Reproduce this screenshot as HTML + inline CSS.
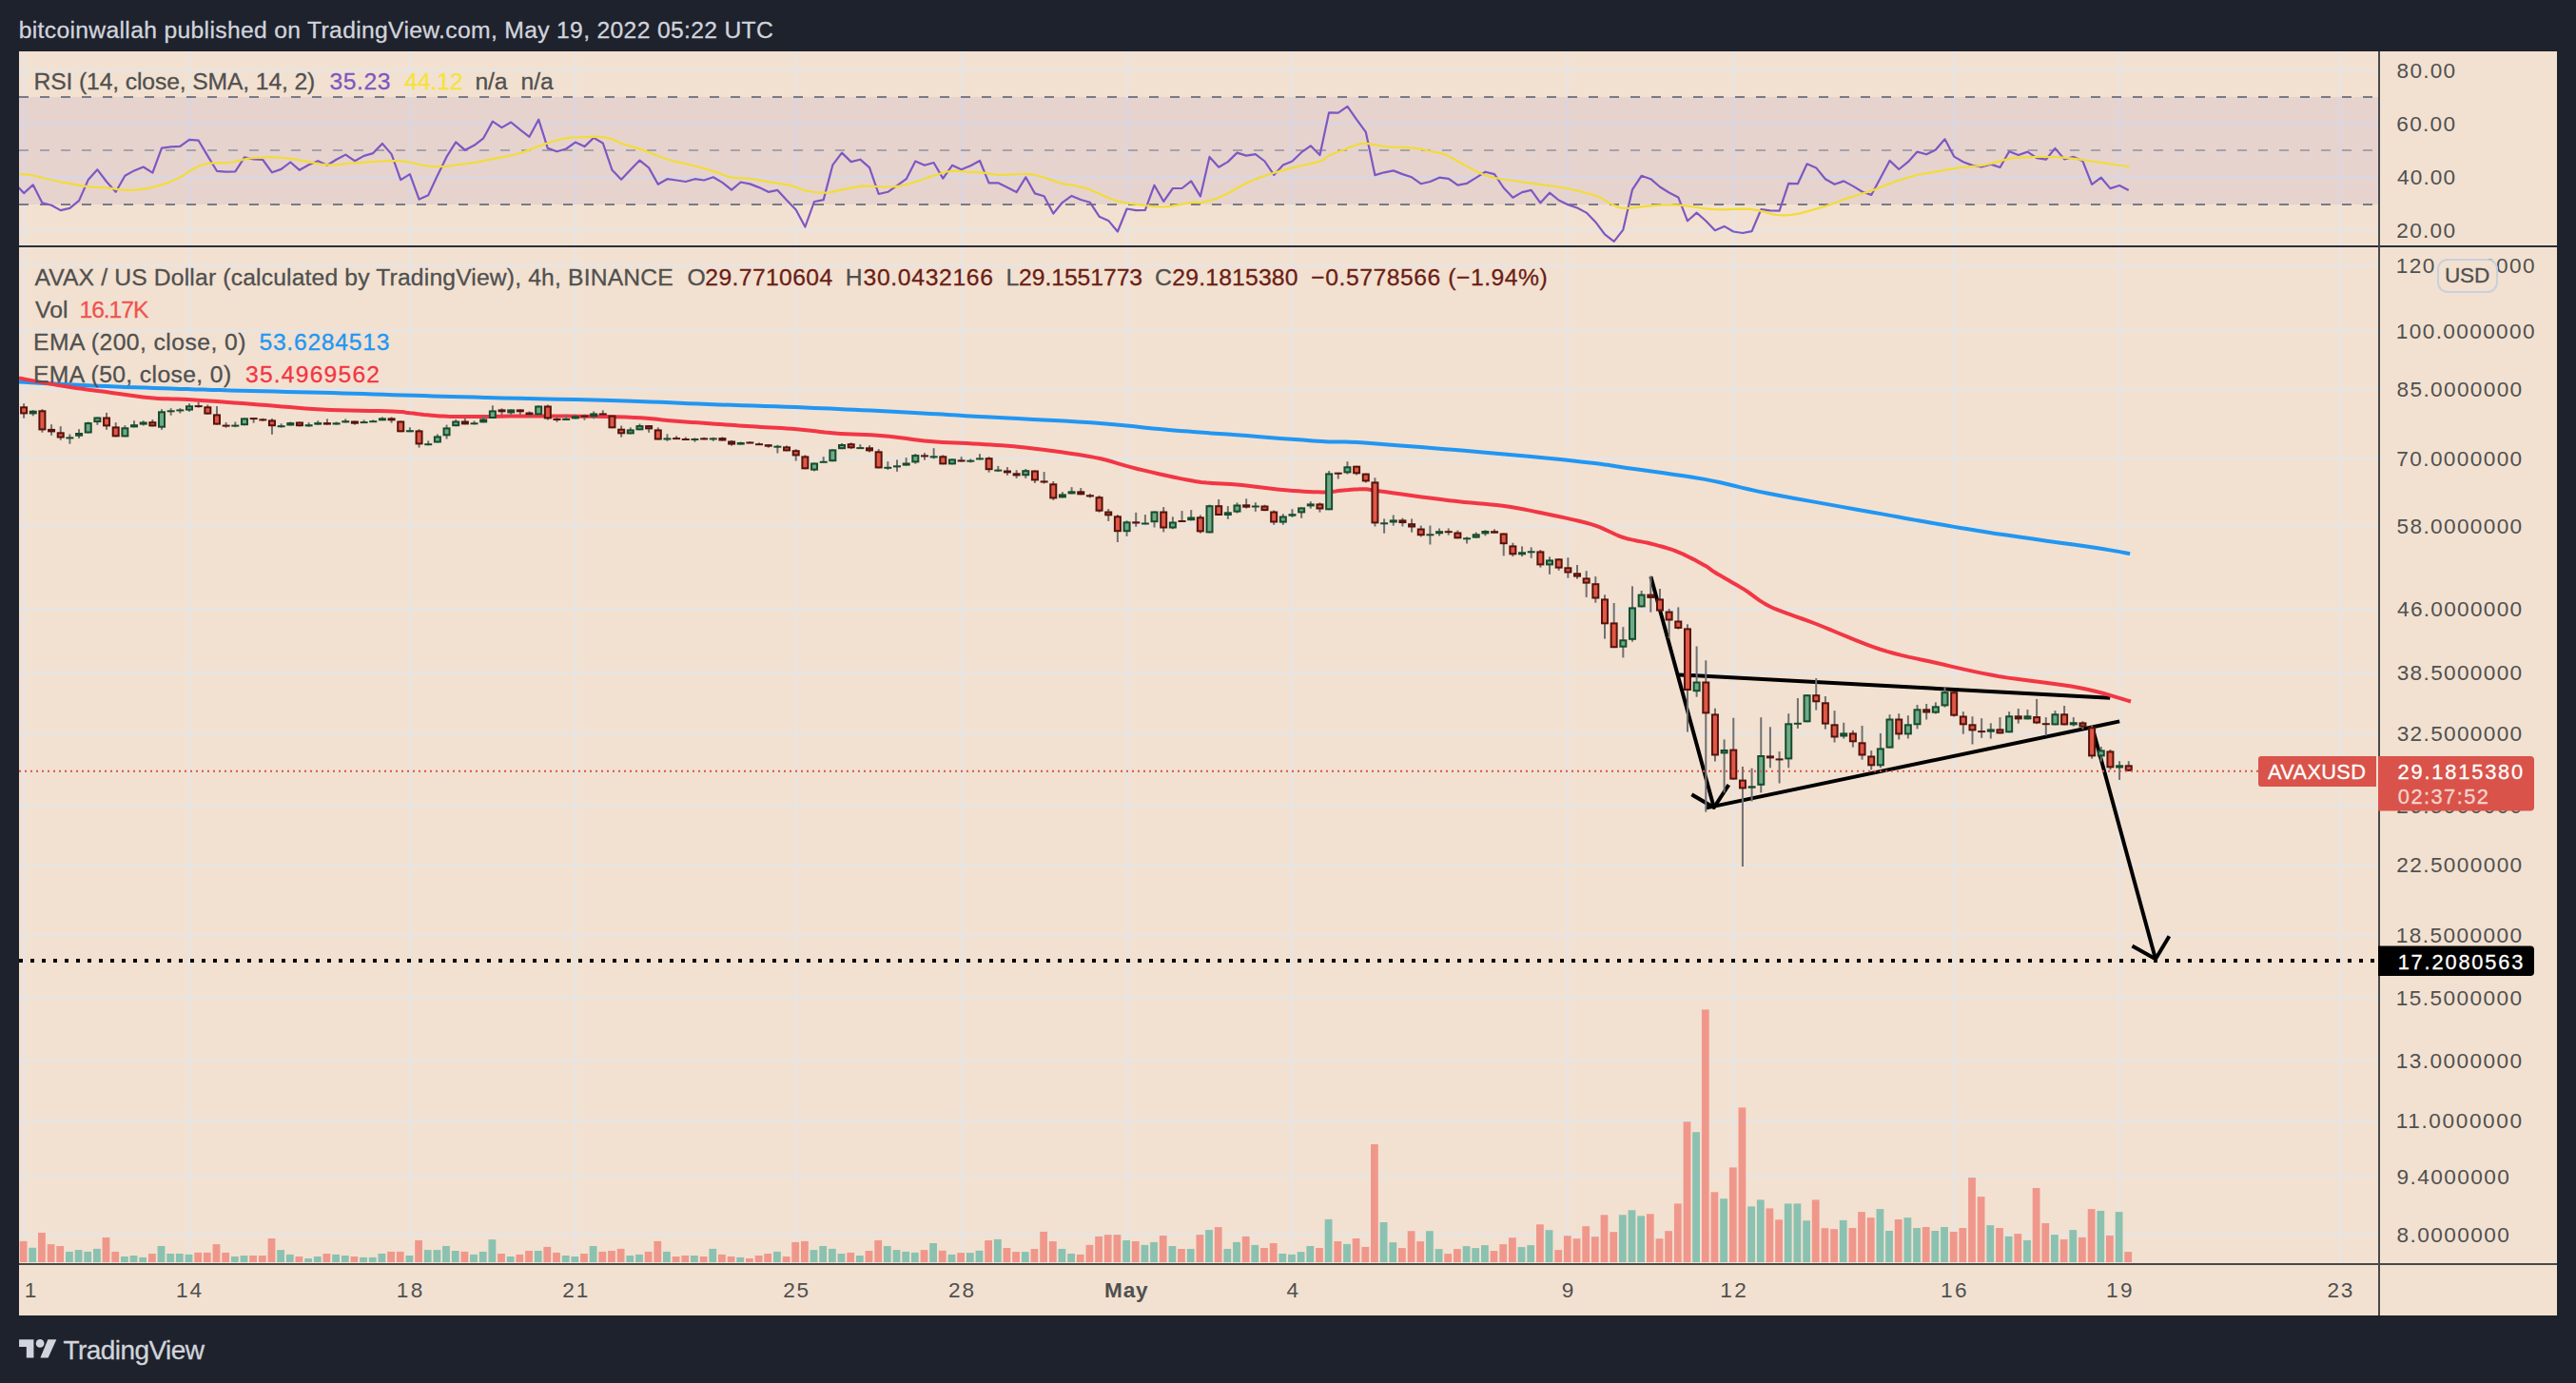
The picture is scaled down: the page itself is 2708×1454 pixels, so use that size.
<!DOCTYPE html><html><head><meta charset="utf-8"><style>html,body{margin:0;padding:0;background:#1e222d;width:2708px;height:1454px;overflow:hidden}svg{display:block}text{font-family:"Liberation Sans", sans-serif}</style></head><body><svg width="2708" height="1454" viewBox="0 0 2708 1454"><rect x="0" y="0" width="2708" height="1454" fill="#1e222d"/><text x="19.69" y="40" font-size="24.7" fill="#d1d4dc" textLength="793.16" lengthAdjust="spacing" stroke="#d1d4dc" stroke-width="0.3">bitcoinwallah published on TradingView.com, May 19, 2022 05:22 UTC</text><rect x="20" y="54" width="2668" height="1329" fill="#f2e1d0"/><defs><clipPath id="cp"><rect x="20" y="54" width="2480" height="1274"/></clipPath><clipPath id="rsiclip"><rect x="20" y="54" width="2480" height="204"/></clipPath><clipPath id="mainclip"><rect x="20" y="260" width="2480" height="1068"/></clipPath><clipPath id="taxclip"><rect x="20" y="1330" width="2480" height="53"/></clipPath></defs><g clip-path="url(#cp)"><rect x="24" y="54" width="2" height="1274" fill="#e4e5e8"/><rect x="198" y="54" width="2" height="1274" fill="#e4e5e8"/><rect x="430" y="54" width="2" height="1274" fill="#e4e5e8"/><rect x="604" y="54" width="2" height="1274" fill="#e4e5e8"/><rect x="836" y="54" width="2" height="1274" fill="#e4e5e8"/><rect x="1010" y="54" width="2" height="1274" fill="#e4e5e8"/><rect x="1184" y="54" width="2" height="1274" fill="#e4e5e8"/><rect x="1357" y="54" width="2" height="1274" fill="#e4e5e8"/><rect x="1647" y="54" width="2" height="1274" fill="#e4e5e8"/><rect x="1821" y="54" width="2" height="1274" fill="#e4e5e8"/><rect x="2053" y="54" width="2" height="1274" fill="#e4e5e8"/><rect x="2227" y="54" width="2" height="1274" fill="#e4e5e8"/><rect x="2459" y="54" width="2" height="1274" fill="#e4e5e8"/><rect x="20" y="73" width="2480" height="2" fill="#e4e5e8"/><rect x="20" y="129" width="2480" height="2" fill="#e4e5e8"/><rect x="20" y="185" width="2480" height="2" fill="#e4e5e8"/><rect x="20" y="241" width="2480" height="2" fill="#e4e5e8"/><rect x="20" y="278" width="2480" height="2" fill="#e4e5e8"/><rect x="20" y="347" width="2480" height="2" fill="#e4e5e8"/><rect x="20" y="408" width="2480" height="2" fill="#e4e5e8"/><rect x="20" y="481" width="2480" height="2" fill="#e4e5e8"/><rect x="20" y="552" width="2480" height="2" fill="#e4e5e8"/><rect x="20" y="639" width="2480" height="2" fill="#e4e5e8"/><rect x="20" y="706" width="2480" height="2" fill="#e4e5e8"/><rect x="20" y="770" width="2480" height="2" fill="#e4e5e8"/><rect x="20" y="846" width="2480" height="2" fill="#e4e5e8"/><rect x="20" y="908" width="2480" height="2" fill="#e4e5e8"/><rect x="20" y="982" width="2480" height="2" fill="#e4e5e8"/><rect x="20" y="1048" width="2480" height="2" fill="#e4e5e8"/><rect x="20" y="1114" width="2480" height="2" fill="#e4e5e8"/><rect x="20" y="1177" width="2480" height="2" fill="#e4e5e8"/><rect x="20" y="1236" width="2480" height="2" fill="#e4e5e8"/><rect x="20" y="1297" width="2480" height="2" fill="#e4e5e8"/></g><rect x="20" y="102" width="2480" height="113" fill="#7e57c2" fill-opacity="0.1"/><line x1="20" y1="102" x2="2500" y2="102" stroke="#787b86" stroke-width="2" stroke-dasharray="10 12"/><line x1="20" y1="158" x2="2500" y2="158" stroke="#a3a3ad" stroke-width="2" stroke-dasharray="10 12"/><line x1="20" y1="215" x2="2500" y2="215" stroke="#787b86" stroke-width="2" stroke-dasharray="10 12"/><g clip-path="url(#rsiclip)"><polyline fill="none" stroke="#7e57c2" stroke-width="2.2" stroke-linejoin="round" points="15.4,192.5 25.1,203.1 34.7,194.3 44.4,213.3 54.1,215.7 63.7,221.1 73.4,218.9 83.1,210.9 92.7,189.1 102.4,178.3 112.0,191.0 121.7,201.8 131.4,184.8 141.0,179.4 150.7,175.5 160.4,181.6 170.0,155.6 179.7,154.3 189.3,153.9 199.0,146.8 208.7,147.7 218.3,163.9 228.0,179.8 237.7,180.7 247.3,180.3 257.0,165.4 266.6,167.3 276.3,168.0 286.0,181.3 295.6,177.9 305.3,170.5 314.9,178.8 324.6,173.3 334.3,169.2 343.9,173.8 353.6,167.7 363.3,162.6 372.9,169.2 382.6,163.9 392.2,161.1 401.9,150.9 411.6,162.1 421.2,189.1 430.9,183.1 440.6,209.6 450.2,205.3 459.9,184.4 469.5,164.9 479.2,149.4 488.9,157.8 498.5,152.8 508.2,145.3 517.9,127.6 527.5,134.1 537.2,128.5 546.8,136.4 556.5,143.8 566.2,125.7 575.8,155.9 585.5,159.3 595.2,156.5 604.8,149.6 614.5,154.1 624.1,144.9 633.8,150.5 643.5,178.8 653.1,188.7 662.8,178.5 672.5,168.6 682.1,176.4 691.8,193.8 701.4,188.2 711.1,189.5 720.8,191.0 730.4,188.2 740.1,189.5 749.8,186.3 759.4,191.9 769.1,199.7 778.7,191.5 788.4,193.4 798.1,197.1 807.7,201.8 817.4,199.9 827.1,210.5 836.7,220.4 846.4,238.5 856.0,212.0 865.7,210.1 875.4,173.3 885.0,160.6 894.7,170.1 904.3,167.7 914.0,176.1 923.7,204.0 933.3,201.8 943.0,195.2 952.7,188.2 962.3,169.5 972.0,173.8 981.6,171.0 991.3,187.6 1001.0,173.8 1010.6,178.3 1020.3,174.2 1030.0,169.0 1039.6,192.3 1049.3,192.3 1058.9,197.1 1068.6,202.1 1078.3,186.3 1087.9,203.4 1097.6,206.2 1107.3,224.5 1116.9,212.8 1126.6,205.9 1136.2,210.0 1145.9,212.8 1155.6,227.7 1165.2,231.9 1174.9,243.5 1184.6,219.5 1194.2,221.1 1203.9,220.8 1213.5,194.7 1223.2,211.8 1232.9,198.0 1242.5,198.0 1252.2,190.4 1261.9,206.4 1271.5,164.9 1281.2,175.7 1290.8,170.1 1300.5,160.6 1310.2,163.6 1319.8,162.1 1329.5,169.5 1339.2,183.9 1348.8,173.6 1358.5,169.5 1368.1,160.2 1377.8,153.3 1387.5,163.0 1397.1,118.3 1406.8,118.7 1416.5,111.8 1426.1,125.7 1435.8,138.8 1445.4,184.1 1455.1,181.3 1464.8,179.4 1474.4,183.1 1484.1,186.3 1493.7,193.2 1503.4,191.0 1513.1,186.7 1522.7,187.8 1532.4,194.7 1542.1,192.8 1551.7,186.9 1561.4,180.7 1571.0,183.1 1580.7,197.5 1590.4,207.7 1600.0,202.1 1609.7,199.9 1619.4,213.3 1629.0,202.7 1638.7,210.5 1648.3,215.2 1658.0,218.5 1667.7,223.6 1677.3,233.4 1687.0,246.3 1696.7,253.9 1706.3,241.6 1716.0,199.3 1725.6,184.8 1735.3,188.2 1745.0,196.5 1754.6,202.5 1764.3,207.4 1774.0,232.3 1783.6,223.6 1793.3,232.3 1802.9,242.2 1812.6,237.9 1822.3,243.5 1831.9,245.0 1841.6,243.1 1851.3,220.2 1860.9,221.3 1870.6,221.7 1880.2,192.8 1889.9,193.2 1899.6,172.3 1909.2,176.4 1918.9,188.2 1928.6,193.8 1938.2,190.4 1947.9,195.6 1957.5,201.5 1967.2,204.9 1976.9,186.9 1986.5,168.9 1996.2,178.0 2005.9,170.2 2015.5,159.6 2025.2,162.3 2034.8,157.5 2044.5,146.3 2054.2,164.6 2063.8,170.2 2073.5,173.9 2083.1,175.5 2092.8,172.6 2102.5,176.0 2112.1,159.2 2121.8,163.0 2131.5,159.6 2141.1,166.2 2150.8,167.7 2160.4,155.9 2170.1,167.4 2179.8,164.9 2189.4,169.3 2199.1,193.8 2208.8,186.7 2218.4,198.1 2228.1,195.0 2237.7,200.0"/><polyline fill="none" stroke="#f2dc3a" stroke-width="2.2" stroke-linejoin="round" points="20.8,183.1 22.7,183.2 25.4,183.3 29.0,183.7 33.8,184.4 40.3,185.9 48.3,187.8 56.7,189.8 64.6,191.5 72.0,192.9 79.3,194.2 86.3,195.3 92.5,196.2 97.6,196.7 101.8,197.0 106.1,197.2 111.2,197.5 117.5,198.2 124.6,199.1 131.9,199.8 139.1,199.9 146.2,199.3 153.4,198.3 160.5,196.9 167.1,195.2 173.2,193.3 179.1,191.1 184.5,188.7 189.4,186.3 193.7,183.9 197.3,181.4 200.8,179.0 204.3,177.0 207.9,175.3 211.3,173.8 215.0,172.7 219.2,171.8 224.4,171.3 230.2,171.3 236.1,171.4 241.6,171.0 246.5,170.1 251.1,168.9 255.7,167.7 260.2,166.7 264.9,166.2 269.5,165.8 274.2,165.6 278.9,165.4 283.5,165.3 288.2,165.4 292.8,165.5 297.5,165.8 301.9,166.3 306.2,166.9 310.8,167.7 316.1,168.6 322.5,169.8 329.5,171.2 336.9,172.5 344.1,173.3 350.8,173.3 357.5,172.8 364.4,172.0 372.0,171.4 381.1,170.8 391.2,170.1 401.1,169.5 409.3,169.2 415.2,169.1 419.8,169.2 423.7,169.6 427.9,170.1 432.6,171.0 437.2,172.1 441.9,173.3 446.5,174.2 451.2,174.7 455.9,175.0 460.5,175.2 465.2,175.1 469.9,174.8 474.8,174.2 479.5,173.5 483.8,172.9 487.6,172.4 490.9,172.0 494.2,171.6 498.0,171.0 502.1,170.3 506.5,169.4 511.2,168.4 516.6,167.3 523.0,166.1 530.0,164.9 537.4,163.5 544.6,161.7 551.7,159.4 558.9,156.6 565.9,153.8 572.5,151.5 578.7,149.5 584.5,147.8 590.0,146.4 594.9,145.3 599.1,144.7 602.6,144.5 606.0,144.5 609.8,144.4 614.3,144.1 619.1,143.9 623.9,143.7 628.4,143.8 632.5,144.2 636.5,144.7 640.1,145.4 643.3,146.2 645.7,147.1 647.5,148.1 649.5,149.2 652.6,150.5 657.2,152.0 662.7,153.6 668.7,155.4 675.0,157.4 681.8,160.0 689.2,162.9 696.5,165.7 703.0,168.0 708.1,169.5 712.3,170.4 716.5,171.2 721.6,172.3 728.1,174.0 735.6,175.9 743.0,177.9 749.5,179.8 754.9,181.6 759.4,183.4 763.7,185.1 768.2,186.3 772.6,186.9 776.9,187.1 781.5,187.2 786.8,187.6 793.4,188.6 800.8,189.8 808.2,191.1 814.8,192.3 820.2,193.2 825.0,193.9 829.3,194.7 833.4,195.6 836.9,196.7 839.8,198.0 842.8,199.2 846.4,200.3 851.1,201.2 856.3,202.0 861.8,202.5 866.9,202.7 871.6,202.3 876.1,201.4 880.7,200.3 885.6,199.3 890.8,198.3 896.4,197.2 902.1,196.2 907.9,195.6 914.0,195.6 920.3,196.0 926.4,196.4 932.1,196.5 937.0,196.4 941.3,196.2 945.6,195.7 950.8,194.7 957.5,192.8 965.2,190.3 972.5,187.8 978.0,185.9 980.7,185.0 981.4,184.7 981.9,184.5 983.6,184.1 986.9,183.0 991.0,181.7 995.6,180.5 1000.4,179.8 1005.4,179.7 1011.0,180.1 1016.3,180.7 1020.9,181.1 1024.1,181.2 1026.6,181.1 1028.9,181.1 1032.0,181.3 1036.0,181.8 1040.4,182.6 1045.3,183.4 1050.7,183.9 1056.9,183.8 1063.8,183.4 1070.7,183.0 1076.8,182.9 1081.5,183.2 1085.4,183.6 1089.2,184.3 1093.5,185.4 1099.0,187.0 1105.0,189.1 1110.9,191.2 1115.9,192.8 1119.3,193.6 1121.7,193.9 1124.0,194.2 1127.1,194.7 1131.0,195.5 1135.3,196.4 1140.2,197.6 1145.7,199.3 1152.0,201.9 1159.1,205.2 1166.4,208.5 1173.6,211.1 1180.8,212.8 1188.0,214.0 1195.0,214.9 1201.6,215.7 1207.4,216.5 1212.7,217.2 1218.0,217.5 1223.9,217.4 1231.4,216.6 1239.7,215.2 1247.6,213.7 1253.8,212.8 1257.3,212.6 1259.0,212.8 1260.4,213.1 1263.1,212.8 1267.3,211.9 1272.3,210.6 1277.8,209.0 1283.6,206.8 1289.8,203.7 1296.5,200.0 1303.3,196.1 1309.7,192.8 1315.4,190.2 1320.7,188.1 1326.1,186.1 1332.0,184.1 1338.6,182.0 1345.6,179.9 1352.8,177.9 1360.0,176.1 1367.4,174.3 1375.1,172.7 1382.2,171.1 1387.9,169.5 1391.1,168.1 1392.6,166.8 1394.0,165.4 1397.2,163.6 1403.3,161.0 1411.1,157.9 1418.9,154.9 1425.2,152.8 1428.9,151.5 1431.2,150.9 1433.2,150.8 1436.4,150.9 1440.9,151.4 1446.1,152.4 1451.9,153.4 1458.0,154.3 1464.8,154.7 1472.2,154.9 1479.5,155.1 1485.9,155.6 1491.3,156.3 1496.0,157.2 1500.3,158.3 1504.6,159.3 1508.6,160.0 1512.3,160.6 1516.3,161.6 1521.4,163.6 1528.1,167.0 1536.1,171.5 1544.2,176.1 1551.2,179.8 1556.4,182.2 1560.6,184.0 1564.7,185.3 1569.8,186.7 1576.3,188.0 1583.5,189.0 1590.9,190.0 1597.7,191.0 1603.7,191.8 1609.2,192.6 1614.5,193.3 1620.1,194.1 1625.8,194.8 1631.5,195.5 1637.6,196.3 1644.3,197.5 1652.5,199.2 1661.7,201.4 1670.6,203.7 1677.9,205.9 1682.9,208.0 1686.5,210.1 1689.5,212.1 1692.8,213.9 1696.1,215.5 1699.3,217.1 1702.9,218.3 1707.7,218.9 1714.1,218.7 1721.8,217.8 1729.8,216.8 1737.5,216.1 1744.4,215.7 1751.0,215.5 1757.8,215.4 1765.4,215.7 1774.1,216.6 1783.5,218.0 1793.2,219.3 1802.7,220.2 1812.2,220.3 1821.9,219.9 1831.3,219.6 1840.0,219.8 1847.8,221.1 1855.1,222.9 1861.8,224.8 1867.9,226.0 1873.2,226.4 1877.8,226.4 1882.1,226.0 1886.5,225.4 1891.2,224.6 1895.9,223.4 1900.5,222.1 1905.2,220.8 1909.9,219.4 1914.8,218.0 1919.5,216.6 1923.8,215.2 1927.7,213.8 1931.1,212.5 1934.5,211.2 1938.0,209.9 1941.6,208.6 1945.3,207.4 1949.1,206.2 1952.9,204.9 1956.8,203.8 1960.7,202.6 1964.8,201.4 1969.1,200.0 1973.4,198.3 1977.8,196.4 1982.5,194.5 1987.7,192.5 1993.5,190.5 1999.7,188.4 2006.2,186.4 2012.5,184.7 2018.7,183.3 2025.0,182.2 2031.2,181.1 2037.4,180.1 2043.6,179.0 2049.8,177.9 2056.0,176.9 2062.2,176.0 2068.4,175.3 2074.6,174.8 2080.9,174.2 2087.1,173.3 2093.4,171.9 2099.8,170.1 2106.1,168.4 2111.9,167.0 2117.0,166.2 2121.5,165.7 2126.2,165.4 2131.8,165.2 2138.7,165.0 2146.4,164.9 2154.3,165.0 2161.6,165.2 2168.2,165.6 2174.3,166.2 2180.4,166.9 2186.4,167.7 2192.6,168.5 2198.7,169.5 2204.9,170.4 2211.3,171.4 2218.6,172.4 2226.5,173.5 2233.7,174.5 2238.6,175.1"/></g><text x="35.52" y="94" font-size="24.7" fill="#505050" textLength="295.78" lengthAdjust="spacing" stroke="#505050" stroke-width="0.3">RSI (14, close, SMA, 14, 2)</text><text x="346.44" y="94" font-size="24.7" fill="#7e57c2" textLength="64.11" lengthAdjust="spacing" stroke="#7e57c2" stroke-width="0.3">35.23</text><text x="425.31" y="94" font-size="24.7" fill="#f6e23a" textLength="61.39" lengthAdjust="spacing" stroke="#f6e23a" stroke-width="0.3">44.12</text><text x="499.39" y="94" font-size="24.7" fill="#505050" textLength="34.21" lengthAdjust="spacing" stroke="#505050" stroke-width="0.3">n/a</text><text x="547.59" y="94" font-size="24.7" fill="#505050" textLength="34.21" lengthAdjust="spacing" stroke="#505050" stroke-width="0.3">n/a</text><g clip-path="url(#mainclip)"><rect x="20.7" y="1304.9" width="7.8" height="22.1" fill="#f0978c"/><rect x="30.3" y="1311.8" width="7.8" height="15.2" fill="#8bc1b0"/><rect x="40.0" y="1296.0" width="7.8" height="31.0" fill="#f0978c"/><rect x="49.7" y="1308.1" width="7.8" height="18.9" fill="#f0978c"/><rect x="59.3" y="1310.0" width="7.8" height="17.0" fill="#f0978c"/><rect x="69.0" y="1315.9" width="7.8" height="11.1" fill="#8bc1b0"/><rect x="78.7" y="1314.1" width="7.8" height="12.9" fill="#8bc1b0"/><rect x="88.3" y="1315.9" width="7.8" height="11.1" fill="#8bc1b0"/><rect x="98.0" y="1312.9" width="7.8" height="14.1" fill="#8bc1b0"/><rect x="107.6" y="1301.0" width="7.8" height="26.0" fill="#f0978c"/><rect x="117.3" y="1315.9" width="7.8" height="11.1" fill="#f0978c"/><rect x="127.0" y="1321.0" width="7.8" height="6.0" fill="#8bc1b0"/><rect x="136.6" y="1320.0" width="7.8" height="7.0" fill="#8bc1b0"/><rect x="146.3" y="1321.9" width="7.8" height="5.1" fill="#8bc1b0"/><rect x="156.0" y="1318.0" width="7.8" height="9.0" fill="#f0978c"/><rect x="165.6" y="1310.0" width="7.8" height="17.0" fill="#8bc1b0"/><rect x="175.3" y="1318.0" width="7.8" height="9.0" fill="#8bc1b0"/><rect x="184.9" y="1318.0" width="7.8" height="9.0" fill="#8bc1b0"/><rect x="194.6" y="1318.9" width="7.8" height="8.1" fill="#8bc1b0"/><rect x="204.3" y="1316.9" width="7.8" height="10.1" fill="#f0978c"/><rect x="213.9" y="1316.9" width="7.8" height="10.1" fill="#f0978c"/><rect x="223.6" y="1308.1" width="7.8" height="18.9" fill="#f0978c"/><rect x="233.3" y="1316.9" width="7.8" height="10.1" fill="#f0978c"/><rect x="242.9" y="1321.0" width="7.8" height="6.0" fill="#8bc1b0"/><rect x="252.6" y="1320.0" width="7.8" height="7.0" fill="#8bc1b0"/><rect x="262.2" y="1320.0" width="7.8" height="7.0" fill="#f0978c"/><rect x="271.9" y="1320.0" width="7.8" height="7.0" fill="#f0978c"/><rect x="281.6" y="1302.0" width="7.8" height="25.0" fill="#f0978c"/><rect x="291.2" y="1314.1" width="7.8" height="12.9" fill="#8bc1b0"/><rect x="300.9" y="1318.9" width="7.8" height="8.1" fill="#8bc1b0"/><rect x="310.5" y="1321.0" width="7.8" height="6.0" fill="#f0978c"/><rect x="320.2" y="1323.0" width="7.8" height="4.0" fill="#8bc1b0"/><rect x="329.9" y="1321.0" width="7.8" height="6.0" fill="#8bc1b0"/><rect x="339.5" y="1318.0" width="7.8" height="9.0" fill="#f0978c"/><rect x="349.2" y="1318.9" width="7.8" height="8.1" fill="#8bc1b0"/><rect x="358.9" y="1320.0" width="7.8" height="7.0" fill="#8bc1b0"/><rect x="368.5" y="1321.0" width="7.8" height="6.0" fill="#f0978c"/><rect x="378.2" y="1321.9" width="7.8" height="5.1" fill="#8bc1b0"/><rect x="387.8" y="1321.9" width="7.8" height="5.1" fill="#8bc1b0"/><rect x="397.5" y="1318.0" width="7.8" height="9.0" fill="#8bc1b0"/><rect x="407.2" y="1315.9" width="7.8" height="11.1" fill="#f0978c"/><rect x="416.8" y="1315.9" width="7.8" height="11.1" fill="#f0978c"/><rect x="426.5" y="1320.0" width="7.8" height="7.0" fill="#8bc1b0"/><rect x="436.2" y="1304.0" width="7.8" height="23.0" fill="#f0978c"/><rect x="445.8" y="1314.1" width="7.8" height="12.9" fill="#8bc1b0"/><rect x="455.5" y="1314.1" width="7.8" height="12.9" fill="#8bc1b0"/><rect x="465.1" y="1310.0" width="7.8" height="17.0" fill="#8bc1b0"/><rect x="474.8" y="1315.0" width="7.8" height="12.0" fill="#8bc1b0"/><rect x="484.5" y="1315.9" width="7.8" height="11.1" fill="#f0978c"/><rect x="494.1" y="1318.9" width="7.8" height="8.1" fill="#8bc1b0"/><rect x="503.8" y="1315.9" width="7.8" height="11.1" fill="#8bc1b0"/><rect x="513.5" y="1303.1" width="7.8" height="23.9" fill="#8bc1b0"/><rect x="523.1" y="1318.0" width="7.8" height="9.0" fill="#f0978c"/><rect x="532.8" y="1321.0" width="7.8" height="6.0" fill="#8bc1b0"/><rect x="542.4" y="1318.9" width="7.8" height="8.1" fill="#f0978c"/><rect x="552.1" y="1315.0" width="7.8" height="12.0" fill="#f0978c"/><rect x="561.8" y="1315.0" width="7.8" height="12.0" fill="#8bc1b0"/><rect x="571.4" y="1310.9" width="7.8" height="16.1" fill="#f0978c"/><rect x="581.1" y="1316.9" width="7.8" height="10.1" fill="#f0978c"/><rect x="590.8" y="1320.0" width="7.8" height="7.0" fill="#8bc1b0"/><rect x="600.4" y="1321.0" width="7.8" height="6.0" fill="#8bc1b0"/><rect x="610.1" y="1318.0" width="7.8" height="9.0" fill="#f0978c"/><rect x="619.7" y="1310.0" width="7.8" height="17.0" fill="#8bc1b0"/><rect x="629.4" y="1315.9" width="7.8" height="11.1" fill="#f0978c"/><rect x="639.1" y="1315.0" width="7.8" height="12.0" fill="#f0978c"/><rect x="648.7" y="1312.9" width="7.8" height="14.1" fill="#f0978c"/><rect x="658.4" y="1320.0" width="7.8" height="7.0" fill="#8bc1b0"/><rect x="668.1" y="1318.9" width="7.8" height="8.1" fill="#8bc1b0"/><rect x="677.7" y="1315.9" width="7.8" height="11.1" fill="#f0978c"/><rect x="687.4" y="1304.9" width="7.8" height="22.1" fill="#f0978c"/><rect x="697.0" y="1315.9" width="7.8" height="11.1" fill="#8bc1b0"/><rect x="706.7" y="1321.0" width="7.8" height="6.0" fill="#f0978c"/><rect x="716.4" y="1320.0" width="7.8" height="7.0" fill="#f0978c"/><rect x="726.0" y="1320.0" width="7.8" height="7.0" fill="#8bc1b0"/><rect x="735.7" y="1321.0" width="7.8" height="6.0" fill="#f0978c"/><rect x="745.4" y="1312.9" width="7.8" height="14.1" fill="#8bc1b0"/><rect x="755.0" y="1318.9" width="7.8" height="8.1" fill="#f0978c"/><rect x="764.7" y="1321.0" width="7.8" height="6.0" fill="#f0978c"/><rect x="774.3" y="1321.9" width="7.8" height="5.1" fill="#8bc1b0"/><rect x="784.0" y="1323.0" width="7.8" height="4.0" fill="#f0978c"/><rect x="793.7" y="1320.0" width="7.8" height="7.0" fill="#f0978c"/><rect x="803.3" y="1318.0" width="7.8" height="9.0" fill="#f0978c"/><rect x="813.0" y="1315.9" width="7.8" height="11.1" fill="#8bc1b0"/><rect x="822.7" y="1321.0" width="7.8" height="6.0" fill="#f0978c"/><rect x="832.3" y="1305.9" width="7.8" height="21.1" fill="#f0978c"/><rect x="842.0" y="1304.9" width="7.8" height="22.1" fill="#f0978c"/><rect x="851.6" y="1314.1" width="7.8" height="12.9" fill="#8bc1b0"/><rect x="861.3" y="1310.0" width="7.8" height="17.0" fill="#8bc1b0"/><rect x="871.0" y="1312.9" width="7.8" height="14.1" fill="#8bc1b0"/><rect x="880.6" y="1318.0" width="7.8" height="9.0" fill="#8bc1b0"/><rect x="890.3" y="1316.9" width="7.8" height="10.1" fill="#f0978c"/><rect x="899.9" y="1320.0" width="7.8" height="7.0" fill="#8bc1b0"/><rect x="909.6" y="1315.0" width="7.8" height="12.0" fill="#f0978c"/><rect x="919.3" y="1304.0" width="7.8" height="23.0" fill="#f0978c"/><rect x="928.9" y="1310.0" width="7.8" height="17.0" fill="#8bc1b0"/><rect x="938.6" y="1314.1" width="7.8" height="12.9" fill="#8bc1b0"/><rect x="948.3" y="1315.9" width="7.8" height="11.1" fill="#8bc1b0"/><rect x="957.9" y="1316.9" width="7.8" height="10.1" fill="#8bc1b0"/><rect x="967.6" y="1314.1" width="7.8" height="12.9" fill="#f0978c"/><rect x="977.2" y="1307.0" width="7.8" height="20.0" fill="#8bc1b0"/><rect x="986.9" y="1314.8" width="7.8" height="12.2" fill="#f0978c"/><rect x="996.6" y="1318.9" width="7.8" height="8.1" fill="#8bc1b0"/><rect x="1006.2" y="1317.1" width="7.8" height="9.9" fill="#f0978c"/><rect x="1015.9" y="1317.1" width="7.8" height="9.9" fill="#8bc1b0"/><rect x="1025.6" y="1314.8" width="7.8" height="12.2" fill="#8bc1b0"/><rect x="1035.2" y="1304.0" width="7.8" height="23.0" fill="#f0978c"/><rect x="1044.9" y="1302.9" width="7.8" height="24.1" fill="#8bc1b0"/><rect x="1054.5" y="1312.0" width="7.8" height="15.0" fill="#f0978c"/><rect x="1064.2" y="1316.1" width="7.8" height="10.9" fill="#f0978c"/><rect x="1073.9" y="1316.1" width="7.8" height="10.9" fill="#8bc1b0"/><rect x="1083.5" y="1313.0" width="7.8" height="14.0" fill="#f0978c"/><rect x="1093.2" y="1294.9" width="7.8" height="32.1" fill="#f0978c"/><rect x="1102.9" y="1305.0" width="7.8" height="22.0" fill="#f0978c"/><rect x="1112.5" y="1313.0" width="7.8" height="14.0" fill="#8bc1b0"/><rect x="1122.2" y="1318.0" width="7.8" height="9.0" fill="#8bc1b0"/><rect x="1131.8" y="1318.9" width="7.8" height="8.1" fill="#f0978c"/><rect x="1141.5" y="1308.9" width="7.8" height="18.1" fill="#f0978c"/><rect x="1151.2" y="1299.9" width="7.8" height="27.1" fill="#f0978c"/><rect x="1160.8" y="1298.1" width="7.8" height="28.9" fill="#f0978c"/><rect x="1170.5" y="1298.1" width="7.8" height="28.9" fill="#f0978c"/><rect x="1180.2" y="1304.0" width="7.8" height="23.0" fill="#8bc1b0"/><rect x="1189.8" y="1305.0" width="7.8" height="22.0" fill="#f0978c"/><rect x="1199.5" y="1308.9" width="7.8" height="18.1" fill="#8bc1b0"/><rect x="1209.1" y="1305.9" width="7.8" height="21.1" fill="#8bc1b0"/><rect x="1218.8" y="1299.0" width="7.8" height="28.0" fill="#f0978c"/><rect x="1228.5" y="1310.0" width="7.8" height="17.0" fill="#8bc1b0"/><rect x="1238.1" y="1313.0" width="7.8" height="14.0" fill="#f0978c"/><rect x="1247.8" y="1313.0" width="7.8" height="14.0" fill="#8bc1b0"/><rect x="1257.5" y="1298.1" width="7.8" height="28.9" fill="#f0978c"/><rect x="1267.1" y="1293.0" width="7.8" height="34.0" fill="#8bc1b0"/><rect x="1276.8" y="1290.1" width="7.8" height="36.9" fill="#f0978c"/><rect x="1286.4" y="1313.0" width="7.8" height="14.0" fill="#8bc1b0"/><rect x="1296.1" y="1305.9" width="7.8" height="21.1" fill="#8bc1b0"/><rect x="1305.8" y="1299.9" width="7.8" height="27.1" fill="#f0978c"/><rect x="1315.4" y="1308.9" width="7.8" height="18.1" fill="#8bc1b0"/><rect x="1325.1" y="1312.0" width="7.8" height="15.0" fill="#f0978c"/><rect x="1334.8" y="1307.0" width="7.8" height="20.0" fill="#f0978c"/><rect x="1344.4" y="1318.0" width="7.8" height="9.0" fill="#8bc1b0"/><rect x="1354.1" y="1318.9" width="7.8" height="8.1" fill="#8bc1b0"/><rect x="1363.7" y="1316.1" width="7.8" height="10.9" fill="#8bc1b0"/><rect x="1373.4" y="1310.0" width="7.8" height="17.0" fill="#8bc1b0"/><rect x="1383.1" y="1312.0" width="7.8" height="15.0" fill="#f0978c"/><rect x="1392.7" y="1281.9" width="7.8" height="45.1" fill="#8bc1b0"/><rect x="1402.4" y="1305.0" width="7.8" height="22.0" fill="#f0978c"/><rect x="1412.1" y="1307.9" width="7.8" height="19.1" fill="#8bc1b0"/><rect x="1421.7" y="1302.0" width="7.8" height="25.0" fill="#f0978c"/><rect x="1431.4" y="1310.9" width="7.8" height="16.1" fill="#f0978c"/><rect x="1441.0" y="1203.0" width="7.8" height="124.0" fill="#f0978c"/><rect x="1450.7" y="1285.0" width="7.8" height="42.0" fill="#8bc1b0"/><rect x="1460.4" y="1306.1" width="7.8" height="20.9" fill="#8bc1b0"/><rect x="1470.0" y="1312.1" width="7.8" height="14.9" fill="#f0978c"/><rect x="1479.7" y="1294.2" width="7.8" height="32.8" fill="#f0978c"/><rect x="1489.3" y="1305.1" width="7.8" height="21.9" fill="#f0978c"/><rect x="1499.0" y="1294.2" width="7.8" height="32.8" fill="#8bc1b0"/><rect x="1508.7" y="1313.1" width="7.8" height="13.9" fill="#8bc1b0"/><rect x="1518.3" y="1318.1" width="7.8" height="8.9" fill="#f0978c"/><rect x="1528.0" y="1313.1" width="7.8" height="13.9" fill="#f0978c"/><rect x="1537.7" y="1310.1" width="7.8" height="16.9" fill="#8bc1b0"/><rect x="1547.3" y="1312.1" width="7.8" height="14.9" fill="#8bc1b0"/><rect x="1557.0" y="1309.1" width="7.8" height="17.9" fill="#8bc1b0"/><rect x="1566.6" y="1315.1" width="7.8" height="11.9" fill="#f0978c"/><rect x="1576.3" y="1308.1" width="7.8" height="18.9" fill="#f0978c"/><rect x="1586.0" y="1301.2" width="7.8" height="25.8" fill="#f0978c"/><rect x="1595.6" y="1311.1" width="7.8" height="15.9" fill="#8bc1b0"/><rect x="1605.3" y="1309.1" width="7.8" height="17.9" fill="#8bc1b0"/><rect x="1615.0" y="1287.3" width="7.8" height="39.7" fill="#f0978c"/><rect x="1624.6" y="1293.2" width="7.8" height="33.8" fill="#8bc1b0"/><rect x="1634.3" y="1314.1" width="7.8" height="12.9" fill="#f0978c"/><rect x="1643.9" y="1299.2" width="7.8" height="27.8" fill="#f0978c"/><rect x="1653.6" y="1302.2" width="7.8" height="24.8" fill="#f0978c"/><rect x="1663.3" y="1289.2" width="7.8" height="37.8" fill="#f0978c"/><rect x="1672.9" y="1300.2" width="7.8" height="26.8" fill="#f0978c"/><rect x="1682.6" y="1277.3" width="7.8" height="49.7" fill="#f0978c"/><rect x="1692.3" y="1295.2" width="7.8" height="31.8" fill="#f0978c"/><rect x="1701.9" y="1277.3" width="7.8" height="49.7" fill="#8bc1b0"/><rect x="1711.6" y="1272.3" width="7.8" height="54.7" fill="#8bc1b0"/><rect x="1721.2" y="1278.3" width="7.8" height="48.7" fill="#8bc1b0"/><rect x="1730.9" y="1276.3" width="7.8" height="50.7" fill="#f0978c"/><rect x="1740.6" y="1302.2" width="7.8" height="24.8" fill="#f0978c"/><rect x="1750.2" y="1294.2" width="7.8" height="32.8" fill="#f0978c"/><rect x="1759.9" y="1265.4" width="7.8" height="61.6" fill="#f0978c"/><rect x="1769.6" y="1179.3" width="7.8" height="147.7" fill="#f0978c"/><rect x="1779.2" y="1190.2" width="7.8" height="136.8" fill="#8bc1b0"/><rect x="1788.9" y="1061.4" width="7.8" height="265.6" fill="#f0978c"/><rect x="1798.5" y="1253.3" width="7.8" height="73.7" fill="#f0978c"/><rect x="1808.2" y="1260.2" width="7.8" height="66.8" fill="#8bc1b0"/><rect x="1817.9" y="1227.4" width="7.8" height="99.6" fill="#f0978c"/><rect x="1827.5" y="1164.4" width="7.8" height="162.6" fill="#f0978c"/><rect x="1837.2" y="1268.4" width="7.8" height="58.6" fill="#8bc1b0"/><rect x="1846.9" y="1261.4" width="7.8" height="65.6" fill="#8bc1b0"/><rect x="1856.5" y="1270.4" width="7.8" height="56.6" fill="#f0978c"/><rect x="1866.2" y="1282.3" width="7.8" height="44.7" fill="#f0978c"/><rect x="1875.8" y="1265.4" width="7.8" height="61.6" fill="#8bc1b0"/><rect x="1885.5" y="1265.4" width="7.8" height="61.6" fill="#8bc1b0"/><rect x="1895.2" y="1283.3" width="7.8" height="43.7" fill="#8bc1b0"/><rect x="1904.8" y="1261.4" width="7.8" height="65.6" fill="#f0978c"/><rect x="1914.5" y="1291.2" width="7.8" height="35.8" fill="#f0978c"/><rect x="1924.2" y="1292.2" width="7.8" height="34.8" fill="#f0978c"/><rect x="1933.8" y="1282.9" width="7.8" height="44.1" fill="#8bc1b0"/><rect x="1943.5" y="1291.0" width="7.8" height="36.0" fill="#f0978c"/><rect x="1953.1" y="1274.1" width="7.8" height="52.9" fill="#f0978c"/><rect x="1962.8" y="1280.1" width="7.8" height="46.9" fill="#f0978c"/><rect x="1972.5" y="1271.1" width="7.8" height="55.9" fill="#8bc1b0"/><rect x="1982.1" y="1294.0" width="7.8" height="33.0" fill="#8bc1b0"/><rect x="1991.8" y="1282.0" width="7.8" height="45.0" fill="#f0978c"/><rect x="2001.5" y="1280.1" width="7.8" height="46.9" fill="#8bc1b0"/><rect x="2011.1" y="1291.0" width="7.8" height="36.0" fill="#8bc1b0"/><rect x="2020.8" y="1290.0" width="7.8" height="37.0" fill="#f0978c"/><rect x="2030.4" y="1294.0" width="7.8" height="33.0" fill="#8bc1b0"/><rect x="2040.1" y="1290.0" width="7.8" height="37.0" fill="#8bc1b0"/><rect x="2049.8" y="1295.0" width="7.8" height="32.0" fill="#f0978c"/><rect x="2059.4" y="1291.0" width="7.8" height="36.0" fill="#f0978c"/><rect x="2069.1" y="1238.1" width="7.8" height="88.9" fill="#f0978c"/><rect x="2078.7" y="1258.1" width="7.8" height="68.9" fill="#f0978c"/><rect x="2088.4" y="1288.1" width="7.8" height="38.9" fill="#8bc1b0"/><rect x="2098.1" y="1291.0" width="7.8" height="36.0" fill="#f0978c"/><rect x="2107.7" y="1299.9" width="7.8" height="27.1" fill="#8bc1b0"/><rect x="2117.4" y="1297.1" width="7.8" height="29.9" fill="#f0978c"/><rect x="2127.1" y="1303.9" width="7.8" height="23.1" fill="#8bc1b0"/><rect x="2136.7" y="1249.0" width="7.8" height="78.0" fill="#f0978c"/><rect x="2146.4" y="1286.0" width="7.8" height="41.0" fill="#f0978c"/><rect x="2156.0" y="1298.1" width="7.8" height="28.9" fill="#8bc1b0"/><rect x="2165.7" y="1303.0" width="7.8" height="24.0" fill="#f0978c"/><rect x="2175.4" y="1293.1" width="7.8" height="33.9" fill="#8bc1b0"/><rect x="2185.0" y="1300.9" width="7.8" height="26.1" fill="#f0978c"/><rect x="2194.7" y="1271.1" width="7.8" height="55.9" fill="#f0978c"/><rect x="2204.4" y="1273.0" width="7.8" height="54.0" fill="#8bc1b0"/><rect x="2214.0" y="1298.9" width="7.8" height="28.1" fill="#f0978c"/><rect x="2223.7" y="1274.1" width="7.8" height="52.9" fill="#8bc1b0"/><rect x="2233.3" y="1316.1" width="7.8" height="10.9" fill="#f0978c"/><line x1="20" y1="1010" x2="2496" y2="1010" stroke="#000" stroke-width="4" stroke-dasharray="4 8"/><line x1="1735.4" y1="606.2" x2="1801.8" y2="849" stroke="#000" stroke-width="4" stroke-linecap="butt"/><polyline fill="none" stroke="#000" stroke-width="4" stroke-linecap="butt" stroke-linejoin="round" points="1778.4,835.3 1801.8,849 1817.3,825.1"/><line x1="1764.8" y1="709.4" x2="2218.2" y2="733.7" stroke="#000" stroke-width="4" stroke-linecap="butt"/><line x1="1793.7" y1="849.4" x2="2228.2" y2="758.4" stroke="#000" stroke-width="4" stroke-linecap="butt"/><line x1="2201" y1="770" x2="2266" y2="1008.2" stroke="#000" stroke-width="4" stroke-linecap="butt"/><polyline fill="none" stroke="#000" stroke-width="4" stroke-linecap="butt" stroke-linejoin="round" points="2241.5,994.4 2266,1008.2 2280.4,984.2"/><polyline fill="none" stroke="#2196f3" stroke-width="4" stroke-linejoin="round" points="20.0,401.5 25.5,401.8 32.9,402.2 41.6,402.7 51.3,403.2 61.7,403.8 72.2,404.3 82.6,404.8 92.5,405.3 102.1,405.7 112.0,406.1 122.0,406.5 132.1,406.9 142.2,407.3 152.1,407.6 161.9,408.0 171.4,408.3 180.4,408.6 188.9,408.9 197.2,409.1 205.4,409.4 213.7,409.6 222.4,409.9 231.6,410.1 241.6,410.4 252.5,410.7 264.1,411.0 276.2,411.3 288.8,411.6 301.4,411.9 313.9,412.2 326.2,412.5 338.0,412.8 349.3,413.1 360.4,413.5 371.3,413.8 382.1,414.1 392.8,414.5 403.5,414.8 414.2,415.2 425.0,415.5 435.5,415.8 445.4,416.1 455.0,416.4 464.8,416.7 475.1,417.0 486.1,417.3 498.3,417.6 512.0,418.0 527.8,418.4 545.7,418.8 565.0,419.2 585.0,419.7 605.0,420.1 624.3,420.6 642.2,421.1 658.0,421.5 671.7,421.9 683.8,422.4 694.7,422.8 704.9,423.3 714.6,423.7 724.3,424.2 734.3,424.6 745.0,425.0 756.4,425.4 768.2,425.8 780.1,426.2 792.0,426.6 803.9,427.0 815.4,427.3 826.4,427.7 836.9,428.1 846.7,428.5 855.8,428.9 864.5,429.2 873.0,429.6 881.2,430.0 889.5,430.4 897.9,430.8 906.5,431.2 915.5,431.6 924.7,432.1 934.1,432.6 943.4,433.1 952.6,433.5 961.5,434.0 970.0,434.5 978.0,434.9 984.9,435.3 990.7,435.6 995.8,436.0 1000.8,436.3 1006.1,436.6 1012.3,437.0 1019.8,437.5 1029.3,438.0 1041.1,438.6 1054.8,439.3 1070.0,440.1 1086.1,440.9 1102.4,441.7 1118.4,442.5 1133.4,443.4 1147.0,444.3 1159.2,445.2 1170.8,446.2 1181.7,447.3 1192.2,448.3 1202.2,449.4 1212.0,450.4 1221.6,451.3 1231.2,452.2 1240.4,453.0 1249.0,453.6 1257.2,454.2 1265.3,454.8 1273.4,455.4 1281.7,456.0 1290.5,456.6 1300.0,457.3 1310.5,458.1 1321.9,459.0 1333.9,459.9 1346.0,460.9 1358.0,461.8 1369.5,462.6 1380.1,463.4 1389.5,464.0 1396.8,464.4 1401.9,464.5 1405.7,464.5 1409.3,464.5 1413.4,464.5 1418.9,464.7 1426.8,465.1 1437.9,465.8 1453.1,466.9 1472.0,468.4 1493.4,470.1 1516.2,471.9 1539.2,473.8 1561.3,475.7 1581.3,477.4 1598.2,478.9 1612.2,480.2 1624.6,481.4 1635.5,482.5 1645.2,483.5 1653.9,484.5 1661.9,485.4 1669.3,486.3 1676.4,487.1 1682.4,487.8 1686.8,488.4 1690.1,488.8 1693.0,489.3 1695.8,489.7 1699.2,490.3 1703.8,491.0 1710.0,491.9 1718.0,493.0 1727.4,494.3 1737.9,495.7 1748.9,497.3 1760.2,498.9 1771.4,500.5 1782.1,502.2 1792.0,503.9 1800.7,505.6 1808.6,507.3 1815.9,509.0 1823.2,510.8 1830.7,512.6 1838.9,514.5 1848.2,516.6 1859.0,518.8 1871.9,521.3 1886.7,524.0 1902.9,526.9 1919.6,529.9 1936.3,532.9 1952.1,535.7 1966.3,538.2 1978.4,540.4 1988.0,542.1 1995.8,543.5 2002.2,544.7 2007.7,545.7 2012.8,546.6 2018.0,547.5 2023.7,548.5 2030.5,549.7 2037.9,551.0 2045.3,552.3 2052.9,553.6 2060.8,555.0 2069.0,556.3 2077.9,557.8 2087.3,559.3 2097.6,560.9 2109.3,562.6 2122.7,564.6 2137.0,566.6 2151.7,568.7 2166.1,570.7 2179.8,572.6 2191.9,574.3 2202.0,575.8 2210.1,577.0 2216.9,578.1 2222.5,579.1 2227.1,579.9 2230.9,580.6 2234.1,581.2 2236.8,581.7 2239.2,582.1"/><polyline fill="none" stroke="#f23645" stroke-width="4" stroke-linejoin="round" points="20.0,397.5 23.7,398.2 28.5,399.1 34.3,400.2 40.7,401.4 47.6,402.6 54.5,403.9 61.3,405.1 67.7,406.1 73.9,407.0 80.1,408.0 86.5,408.8 92.8,409.7 99.1,410.5 105.4,411.3 111.5,412.1 117.4,412.9 123.1,413.7 128.7,414.5 134.2,415.3 139.5,416.0 144.9,416.7 150.2,417.4 155.5,418.0 160.9,418.5 166.2,418.9 171.2,419.2 176.1,419.3 181.1,419.5 186.2,419.6 191.7,419.8 197.7,420.0 204.3,420.4 211.6,420.9 219.6,421.4 228.1,422.0 236.9,422.7 245.9,423.4 254.9,424.1 263.7,424.7 272.3,425.4 280.6,426.1 288.7,426.7 296.7,427.4 304.7,428.1 312.8,428.8 321.0,429.4 329.4,430.0 338.0,430.5 347.3,430.9 357.3,431.2 367.7,431.5 378.2,431.7 388.3,431.9 397.6,432.1 405.8,432.3 412.5,432.5 417.4,432.7 420.8,432.9 423.1,433.1 424.6,433.3 425.7,433.5 427.0,433.7 428.7,433.9 431.2,434.2 434.4,434.5 437.9,435.0 441.6,435.4 445.5,435.9 449.6,436.3 453.7,436.7 457.9,437.1 462.2,437.4 466.4,437.6 470.5,437.8 474.6,437.9 478.9,437.9 483.4,438.0 488.3,438.0 493.6,438.0 499.5,438.0 505.8,438.0 512.5,437.9 519.5,437.8 526.9,437.7 534.7,437.6 543.1,437.5 552.0,437.4 561.6,437.4 572.3,437.4 584.4,437.5 597.3,437.6 610.6,437.7 623.8,437.8 636.4,438.0 648.0,438.2 658.0,438.5 666.4,438.9 673.7,439.3 680.1,439.8 685.8,440.3 691.1,440.8 696.4,441.4 701.8,441.9 707.7,442.4 714.0,442.9 720.4,443.4 726.9,443.9 733.3,444.3 739.7,444.8 745.9,445.3 751.8,445.7 757.4,446.1 762.6,446.5 767.4,446.8 772.0,447.1 776.4,447.4 780.8,447.7 785.2,448.0 789.8,448.3 794.6,448.6 799.7,448.9 805.0,449.2 810.4,449.5 815.9,449.8 821.4,450.1 826.9,450.4 832.3,450.8 837.6,451.2 842.7,451.7 847.6,452.2 852.5,452.8 857.3,453.3 862.2,453.9 867.2,454.5 872.4,455.0 877.9,455.5 883.7,455.9 889.8,456.2 896.1,456.5 902.6,456.8 909.1,457.0 915.6,457.3 922.1,457.7 928.4,458.2 934.6,458.8 940.8,459.5 947.0,460.3 953.1,461.1 959.3,461.9 965.5,462.7 971.7,463.4 978.0,464.0 984.3,464.5 990.7,464.9 997.1,465.2 1003.6,465.5 1010.0,465.8 1016.5,466.1 1022.9,466.4 1029.3,466.8 1035.5,467.2 1041.5,467.6 1047.4,467.9 1053.3,468.3 1059.4,468.8 1065.8,469.3 1072.5,470.0 1079.8,470.8 1087.8,471.8 1096.6,472.8 1105.9,474.1 1115.5,475.3 1125.0,476.7 1134.1,478.1 1142.7,479.5 1150.5,480.9 1157.3,482.3 1163.3,483.8 1168.7,485.3 1173.8,486.8 1178.9,488.3 1184.1,489.9 1189.7,491.4 1195.9,493.0 1202.9,494.6 1210.4,496.4 1218.2,498.2 1226.3,500.0 1234.3,501.8 1242.1,503.4 1249.5,504.8 1256.4,506.0 1262.6,506.9 1268.4,507.5 1273.8,507.9 1279.0,508.2 1284.0,508.5 1289.2,508.7 1294.4,509.0 1300.0,509.5 1305.9,510.1 1312.0,510.8 1318.2,511.6 1324.4,512.3 1330.6,513.1 1336.8,513.8 1342.8,514.4 1348.5,515.0 1354.1,515.5 1359.7,515.9 1365.2,516.3 1370.6,516.7 1375.8,517.0 1380.7,517.2 1385.3,517.3 1389.5,517.4 1393.2,517.4 1396.4,517.2 1399.3,517.0 1401.9,516.7 1404.4,516.4 1406.8,516.0 1409.3,515.7 1412.0,515.5 1414.8,515.3 1417.7,515.1 1420.7,514.8 1423.6,514.6 1426.4,514.4 1429.2,514.3 1431.8,514.2 1434.2,514.2 1436.0,514.2 1437.0,514.3 1437.7,514.4 1438.4,514.5 1439.5,514.7 1441.4,515.1 1444.4,515.5 1449.1,516.2 1455.7,517.1 1464.0,518.2 1473.5,519.6 1483.8,521.0 1494.4,522.4 1504.9,523.8 1514.8,525.1 1523.6,526.2 1531.6,527.1 1539.3,527.9 1546.7,528.6 1553.9,529.2 1560.7,529.8 1567.3,530.4 1573.5,531.1 1579.5,531.8 1584.9,532.5 1589.7,533.3 1594.0,534.0 1598.1,534.7 1602.3,535.5 1606.6,536.4 1611.4,537.4 1616.8,538.5 1623.1,539.8 1630.0,541.2 1637.4,542.8 1645.0,544.4 1652.6,546.1 1659.9,547.8 1666.7,549.5 1672.7,551.2 1678.0,552.9 1682.7,554.7 1687.1,556.6 1691.1,558.5 1694.9,560.3 1698.6,562.0 1702.3,563.6 1706.2,565.0 1710.1,566.2 1714.0,567.1 1717.7,567.9 1721.4,568.7 1725.1,569.4 1728.8,570.1 1732.4,570.8 1736.0,571.7 1739.6,572.6 1743.1,573.6 1746.6,574.5 1750.1,575.5 1753.6,576.6 1757.0,577.7 1760.5,578.9 1764.0,580.3 1767.6,581.8 1771.4,583.6 1775.2,585.5 1779.0,587.4 1782.7,589.3 1786.2,591.2 1789.3,592.9 1792.0,594.4 1794.1,595.6 1795.5,596.5 1796.6,597.3 1797.5,598.0 1798.4,598.7 1799.5,599.6 1801.0,600.6 1803.2,602.0 1806.0,603.7 1809.4,605.6 1813.1,607.8 1817.0,610.0 1821.1,612.4 1825.2,614.7 1829.2,617.1 1833.0,619.4 1836.5,621.7 1839.8,624.0 1843.0,626.3 1846.1,628.7 1849.5,631.1 1853.1,633.4 1857.0,635.7 1861.4,638.0 1866.2,640.2 1871.3,642.2 1876.6,644.2 1882.2,646.2 1888.2,648.3 1894.4,650.5 1901.0,652.9 1908.0,655.5 1915.5,658.5 1923.7,661.9 1932.3,665.5 1941.2,669.2 1950.2,672.9 1959.1,676.4 1967.7,679.7 1976.0,682.5 1983.8,684.9 1991.4,687.0 1998.8,688.9 2006.1,690.6 2013.4,692.1 2020.7,693.7 2028.1,695.3 2035.8,697.0 2043.5,698.8 2051.2,700.6 2058.9,702.4 2066.7,704.1 2074.7,705.9 2083.0,707.6 2091.6,709.3 2100.8,711.0 2110.8,712.6 2121.6,714.1 2132.9,715.6 2144.5,717.1 2156.0,718.6 2167.0,720.0 2177.4,721.6 2186.7,723.2 2195.3,725.0 2203.6,727.0 2211.4,729.0 2218.7,731.1 2225.3,733.1 2231.2,734.9 2236.1,736.4 2240.0,737.5"/><rect x="24.08" y="424.2" width="2" height="15.5" fill="#707073"/><rect x="21.08" y="427.3" width="8" height="8.1" fill="#56120c"/><rect x="23.08" y="429.3" width="4" height="4.1" fill="#e05846"/><rect x="33.74" y="431.1" width="2" height="6.2" fill="#707073"/><rect x="30.74" y="431.7" width="8" height="3.7" fill="#154c2e"/><rect x="43.40" y="430.2" width="2" height="24.5" fill="#707073"/><rect x="40.40" y="431.3" width="8" height="21.1" fill="#56120c"/><rect x="42.40" y="433.3" width="4" height="17.1" fill="#e05846"/><rect x="53.07" y="446.2" width="2" height="11.6" fill="#707073"/><rect x="50.07" y="450.9" width="8" height="3.5" fill="#56120c"/><rect x="62.73" y="448.2" width="2" height="14.5" fill="#707073"/><rect x="59.73" y="454.3" width="8" height="6.2" fill="#56120c"/><rect x="61.73" y="456.3" width="4" height="2.2" fill="#e05846"/><rect x="72.39" y="456.5" width="2" height="10.2" fill="#707073"/><rect x="69.39" y="459.4" width="8" height="2.0" fill="#154c2e"/><rect x="82.05" y="451.2" width="2" height="9.7" fill="#707073"/><rect x="79.05" y="455.0" width="8" height="3.7" fill="#154c2e"/><rect x="91.72" y="443.5" width="2" height="12.0" fill="#707073"/><rect x="88.72" y="444.1" width="8" height="11.4" fill="#154c2e"/><rect x="90.72" y="446.1" width="4" height="7.4" fill="#6eaa87"/><rect x="101.38" y="438.5" width="2" height="8.3" fill="#707073"/><rect x="98.38" y="438.5" width="8" height="5.6" fill="#154c2e"/><rect x="100.38" y="440.5" width="4" height="1.6" fill="#6eaa87"/><rect x="111.04" y="433.9" width="2" height="17.9" fill="#707073"/><rect x="108.04" y="438.5" width="8" height="9.9" fill="#56120c"/><rect x="110.04" y="440.5" width="4" height="5.9" fill="#e05846"/><rect x="120.70" y="444.1" width="2" height="15.3" fill="#707073"/><rect x="117.70" y="448.4" width="8" height="10.9" fill="#56120c"/><rect x="119.70" y="450.4" width="4" height="6.9" fill="#e05846"/><rect x="130.37" y="447.2" width="2" height="12.2" fill="#707073"/><rect x="127.37" y="449.3" width="8" height="10.1" fill="#154c2e"/><rect x="129.37" y="451.3" width="4" height="6.1" fill="#6eaa87"/><rect x="140.03" y="442.2" width="2" height="7.2" fill="#707073"/><rect x="137.03" y="446.2" width="8" height="3.2" fill="#154c2e"/><rect x="149.69" y="442.2" width="2" height="5.3" fill="#707073"/><rect x="146.69" y="443.5" width="8" height="3.1" fill="#154c2e"/><rect x="159.35" y="441.0" width="2" height="7.5" fill="#707073"/><rect x="156.35" y="443.2" width="8" height="5.2" fill="#56120c"/><rect x="158.35" y="445.2" width="4" height="1.2" fill="#e05846"/><rect x="169.01" y="430.2" width="2" height="21.6" fill="#707073"/><rect x="166.01" y="432.3" width="8" height="17.4" fill="#154c2e"/><rect x="168.01" y="434.3" width="4" height="13.4" fill="#6eaa87"/><rect x="178.68" y="429.2" width="2" height="7.5" fill="#707073"/><rect x="175.68" y="431.3" width="8" height="2.0" fill="#154c2e"/><rect x="188.34" y="429.2" width="2" height="5.3" fill="#707073"/><rect x="185.34" y="430.4" width="8" height="2.0" fill="#154c2e"/><rect x="198.00" y="424.2" width="2" height="8.7" fill="#707073"/><rect x="195.00" y="426.3" width="8" height="5.3" fill="#154c2e"/><rect x="197.00" y="428.3" width="4" height="1.3" fill="#6eaa87"/><rect x="207.66" y="423.0" width="2" height="5.6" fill="#707073"/><rect x="204.66" y="426.1" width="8" height="2.0" fill="#56120c"/><rect x="217.33" y="425.5" width="2" height="10.2" fill="#707073"/><rect x="214.33" y="427.3" width="8" height="8.3" fill="#56120c"/><rect x="216.33" y="429.3" width="4" height="4.3" fill="#e05846"/><rect x="226.99" y="427.1" width="2" height="19.5" fill="#707073"/><rect x="223.99" y="435.4" width="8" height="11.2" fill="#56120c"/><rect x="225.99" y="437.4" width="4" height="7.2" fill="#e05846"/><rect x="236.65" y="444.1" width="2" height="5.6" fill="#707073"/><rect x="233.65" y="446.6" width="8" height="2.0" fill="#56120c"/><rect x="246.31" y="443.5" width="2" height="5.6" fill="#707073"/><rect x="243.31" y="446.6" width="8" height="2.0" fill="#154c2e"/><rect x="255.98" y="439.4" width="2" height="7.8" fill="#707073"/><rect x="252.98" y="439.4" width="8" height="7.8" fill="#154c2e"/><rect x="254.98" y="441.4" width="4" height="3.8" fill="#6eaa87"/><rect x="265.64" y="439.1" width="2" height="5.6" fill="#707073"/><rect x="262.64" y="439.1" width="8" height="2.0" fill="#56120c"/><rect x="275.30" y="439.8" width="2" height="3.1" fill="#707073"/><rect x="272.30" y="440.4" width="8" height="2.0" fill="#56120c"/><rect x="284.96" y="440.0" width="2" height="16.8" fill="#707073"/><rect x="281.96" y="441.4" width="8" height="6.8" fill="#56120c"/><rect x="283.96" y="443.4" width="4" height="2.8" fill="#e05846"/><rect x="294.62" y="445.3" width="2" height="4.3" fill="#707073"/><rect x="291.62" y="447.2" width="8" height="2.0" fill="#154c2e"/><rect x="304.29" y="443.5" width="2" height="4.0" fill="#707073"/><rect x="301.29" y="444.1" width="8" height="3.4" fill="#154c2e"/><rect x="313.95" y="443.5" width="2" height="5.0" fill="#707073"/><rect x="310.95" y="443.5" width="8" height="4.7" fill="#56120c"/><rect x="312.95" y="445.5" width="4" height="0.7" fill="#e05846"/><rect x="323.61" y="444.1" width="2" height="4.6" fill="#707073"/><rect x="320.61" y="446.2" width="8" height="2.2" fill="#154c2e"/><rect x="333.27" y="442.2" width="2" height="4.7" fill="#707073"/><rect x="330.27" y="444.1" width="8" height="2.5" fill="#154c2e"/><rect x="342.94" y="440.4" width="2" height="6.2" fill="#707073"/><rect x="339.94" y="444.1" width="8" height="2.5" fill="#56120c"/><rect x="352.60" y="443.5" width="2" height="3.1" fill="#707073"/><rect x="349.60" y="444.3" width="8" height="2.2" fill="#154c2e"/><rect x="362.26" y="440.4" width="2" height="4.1" fill="#707073"/><rect x="359.26" y="442.2" width="8" height="2.2" fill="#154c2e"/><rect x="371.92" y="442.5" width="2" height="4.1" fill="#707073"/><rect x="368.92" y="442.5" width="8" height="3.2" fill="#56120c"/><rect x="381.59" y="441.4" width="2" height="3.1" fill="#707073"/><rect x="378.59" y="443.1" width="8" height="2.0" fill="#154c2e"/><rect x="391.25" y="441.4" width="2" height="2.1" fill="#707073"/><rect x="388.25" y="442.2" width="8" height="2.0" fill="#154c2e"/><rect x="400.91" y="438.5" width="2" height="3.7" fill="#707073"/><rect x="397.91" y="439.4" width="8" height="2.9" fill="#154c2e"/><rect x="410.57" y="438.5" width="2" height="6.2" fill="#707073"/><rect x="407.57" y="439.4" width="8" height="2.9" fill="#56120c"/><rect x="420.23" y="442.5" width="2" height="11.8" fill="#707073"/><rect x="417.23" y="442.5" width="8" height="11.8" fill="#56120c"/><rect x="419.23" y="444.5" width="4" height="7.8" fill="#e05846"/><rect x="429.90" y="449.3" width="2" height="5.0" fill="#707073"/><rect x="426.90" y="452.2" width="8" height="2.1" fill="#154c2e"/><rect x="439.56" y="451.2" width="2" height="19.4" fill="#707073"/><rect x="436.56" y="452.4" width="8" height="15.0" fill="#56120c"/><rect x="438.56" y="454.4" width="4" height="11.0" fill="#e05846"/><rect x="449.22" y="463.4" width="2" height="5.0" fill="#707073"/><rect x="446.22" y="466.2" width="8" height="2.0" fill="#154c2e"/><rect x="458.88" y="456.5" width="2" height="8.9" fill="#707073"/><rect x="455.88" y="458.4" width="8" height="7.1" fill="#154c2e"/><rect x="457.88" y="460.4" width="4" height="3.1" fill="#6eaa87"/><rect x="468.55" y="446.6" width="2" height="14.9" fill="#707073"/><rect x="465.55" y="449.4" width="8" height="8.9" fill="#154c2e"/><rect x="467.55" y="451.4" width="4" height="4.9" fill="#6eaa87"/><rect x="478.21" y="441.0" width="2" height="7.2" fill="#707073"/><rect x="475.21" y="442.5" width="8" height="5.7" fill="#154c2e"/><rect x="477.21" y="444.5" width="4" height="1.7" fill="#6eaa87"/><rect x="487.87" y="439.5" width="2" height="6.8" fill="#707073"/><rect x="484.87" y="442.5" width="8" height="3.9" fill="#56120c"/><rect x="497.53" y="442.5" width="2" height="3.9" fill="#707073"/><rect x="494.53" y="444.3" width="8" height="2.0" fill="#154c2e"/><rect x="507.19" y="437.6" width="2" height="6.7" fill="#707073"/><rect x="504.19" y="440.4" width="8" height="4.0" fill="#154c2e"/><rect x="516.86" y="426.3" width="2" height="13.7" fill="#707073"/><rect x="513.86" y="431.4" width="8" height="8.6" fill="#154c2e"/><rect x="515.86" y="433.4" width="4" height="4.6" fill="#6eaa87"/><rect x="526.52" y="429.4" width="2" height="7.2" fill="#707073"/><rect x="523.52" y="430.4" width="8" height="2.9" fill="#56120c"/><rect x="536.18" y="430.4" width="2" height="6.2" fill="#707073"/><rect x="533.18" y="430.4" width="8" height="4.0" fill="#154c2e"/><rect x="545.84" y="430.4" width="2" height="6.2" fill="#707073"/><rect x="542.84" y="430.4" width="8" height="2.9" fill="#56120c"/><rect x="555.51" y="432.5" width="2" height="6.2" fill="#707073"/><rect x="552.51" y="433.5" width="8" height="2.7" fill="#56120c"/><rect x="565.17" y="426.5" width="2" height="9.8" fill="#707073"/><rect x="562.17" y="426.5" width="8" height="9.8" fill="#154c2e"/><rect x="564.17" y="428.5" width="4" height="5.8" fill="#6eaa87"/><rect x="574.83" y="425.5" width="2" height="16.1" fill="#707073"/><rect x="571.83" y="426.5" width="8" height="13.9" fill="#56120c"/><rect x="573.83" y="428.5" width="4" height="9.9" fill="#e05846"/><rect x="584.49" y="437.6" width="2" height="6.1" fill="#707073"/><rect x="581.49" y="440.0" width="8" height="2.0" fill="#56120c"/><rect x="594.16" y="435.7" width="2" height="5.7" fill="#707073"/><rect x="591.16" y="440.0" width="8" height="2.0" fill="#154c2e"/><rect x="603.82" y="435.7" width="2" height="4.7" fill="#707073"/><rect x="600.82" y="437.3" width="8" height="3.1" fill="#154c2e"/><rect x="613.48" y="435.7" width="2" height="6.0" fill="#707073"/><rect x="610.48" y="436.6" width="8" height="2.0" fill="#56120c"/><rect x="623.14" y="432.5" width="2" height="7.8" fill="#707073"/><rect x="620.14" y="434.4" width="8" height="3.9" fill="#154c2e"/><rect x="632.80" y="431.4" width="2" height="5.8" fill="#707073"/><rect x="629.80" y="434.4" width="8" height="2.0" fill="#56120c"/><rect x="642.47" y="436.6" width="2" height="13.7" fill="#707073"/><rect x="639.47" y="436.6" width="8" height="13.7" fill="#56120c"/><rect x="641.47" y="438.6" width="4" height="9.7" fill="#e05846"/><rect x="652.13" y="447.5" width="2" height="12.2" fill="#707073"/><rect x="649.13" y="450.7" width="8" height="5.6" fill="#56120c"/><rect x="651.13" y="452.7" width="4" height="1.6" fill="#e05846"/><rect x="661.79" y="449.4" width="2" height="7.0" fill="#707073"/><rect x="658.79" y="451.4" width="8" height="5.0" fill="#154c2e"/><rect x="660.79" y="453.4" width="4" height="1.0" fill="#6eaa87"/><rect x="671.45" y="445.5" width="2" height="6.8" fill="#707073"/><rect x="668.45" y="447.1" width="8" height="5.2" fill="#154c2e"/><rect x="670.45" y="449.1" width="4" height="1.2" fill="#6eaa87"/><rect x="681.12" y="447.1" width="2" height="7.7" fill="#707073"/><rect x="678.12" y="447.1" width="8" height="4.3" fill="#56120c"/><rect x="680.12" y="449.1" width="4" height="0.3" fill="#e05846"/><rect x="690.78" y="449.4" width="2" height="13.0" fill="#707073"/><rect x="687.78" y="451.4" width="8" height="11.1" fill="#56120c"/><rect x="689.78" y="453.4" width="4" height="7.1" fill="#e05846"/><rect x="700.44" y="456.3" width="2" height="7.5" fill="#707073"/><rect x="697.44" y="460.4" width="8" height="2.1" fill="#154c2e"/><rect x="710.10" y="458.3" width="2" height="3.4" fill="#707073"/><rect x="707.10" y="460.1" width="8" height="2.0" fill="#56120c"/><rect x="719.77" y="459.5" width="2" height="3.0" fill="#707073"/><rect x="716.77" y="461.0" width="8" height="2.0" fill="#56120c"/><rect x="729.43" y="460.4" width="2" height="4.3" fill="#707073"/><rect x="726.43" y="461.0" width="8" height="2.0" fill="#154c2e"/><rect x="739.09" y="459.8" width="2" height="2.5" fill="#707073"/><rect x="736.09" y="460.4" width="8" height="2.0" fill="#56120c"/><rect x="748.75" y="459.8" width="2" height="4.0" fill="#707073"/><rect x="745.75" y="460.4" width="8" height="2.0" fill="#154c2e"/><rect x="758.41" y="459.5" width="2" height="4.0" fill="#707073"/><rect x="755.41" y="460.1" width="8" height="3.4" fill="#56120c"/><rect x="768.08" y="462.9" width="2" height="5.8" fill="#707073"/><rect x="765.08" y="463.5" width="8" height="4.1" fill="#56120c"/><rect x="767.08" y="465.5" width="4" height="0.1" fill="#e05846"/><rect x="777.74" y="464.5" width="2" height="3.1" fill="#707073"/><rect x="774.74" y="465.0" width="8" height="2.6" fill="#154c2e"/><rect x="787.40" y="464.1" width="2" height="2.2" fill="#707073"/><rect x="784.40" y="464.5" width="8" height="2.0" fill="#56120c"/><rect x="797.06" y="465.3" width="2" height="2.2" fill="#707073"/><rect x="794.06" y="466.2" width="8" height="2.0" fill="#56120c"/><rect x="806.73" y="467.2" width="2" height="3.5" fill="#707073"/><rect x="803.73" y="467.2" width="8" height="2.5" fill="#56120c"/><rect x="816.39" y="467.8" width="2" height="8.7" fill="#707073"/><rect x="813.39" y="468.7" width="8" height="2.0" fill="#154c2e"/><rect x="826.05" y="468.4" width="2" height="6.0" fill="#707073"/><rect x="823.05" y="469.4" width="8" height="5.0" fill="#56120c"/><rect x="825.05" y="471.4" width="4" height="1.0" fill="#e05846"/><rect x="835.71" y="472.2" width="2" height="12.4" fill="#707073"/><rect x="832.71" y="473.2" width="8" height="6.2" fill="#56120c"/><rect x="834.71" y="475.2" width="4" height="2.2" fill="#e05846"/><rect x="845.38" y="478.4" width="2" height="14.9" fill="#707073"/><rect x="842.38" y="479.4" width="8" height="13.9" fill="#56120c"/><rect x="844.38" y="481.4" width="4" height="9.9" fill="#e05846"/><rect x="855.04" y="486.5" width="2" height="8.9" fill="#707073"/><rect x="852.04" y="486.5" width="8" height="8.1" fill="#154c2e"/><rect x="854.04" y="488.5" width="4" height="4.1" fill="#6eaa87"/><rect x="864.70" y="480.2" width="2" height="6.2" fill="#707073"/><rect x="861.70" y="484.8" width="8" height="2.0" fill="#154c2e"/><rect x="874.36" y="472.4" width="2" height="12.8" fill="#707073"/><rect x="871.36" y="472.4" width="8" height="12.8" fill="#154c2e"/><rect x="873.36" y="474.4" width="4" height="8.8" fill="#6eaa87"/><rect x="884.02" y="466.0" width="2" height="6.2" fill="#707073"/><rect x="881.02" y="467.0" width="8" height="5.2" fill="#154c2e"/><rect x="883.02" y="469.0" width="4" height="1.2" fill="#6eaa87"/><rect x="893.69" y="465.3" width="2" height="6.8" fill="#707073"/><rect x="890.69" y="466.2" width="8" height="5.1" fill="#56120c"/><rect x="892.69" y="468.2" width="4" height="1.1" fill="#e05846"/><rect x="903.35" y="467.2" width="2" height="4.1" fill="#707073"/><rect x="900.35" y="470.1" width="8" height="2.0" fill="#154c2e"/><rect x="913.01" y="468.2" width="2" height="7.3" fill="#707073"/><rect x="910.01" y="470.3" width="8" height="4.1" fill="#56120c"/><rect x="912.01" y="472.3" width="4" height="0.1" fill="#e05846"/><rect x="922.67" y="472.2" width="2" height="20.2" fill="#707073"/><rect x="919.67" y="474.3" width="8" height="18.1" fill="#56120c"/><rect x="921.67" y="476.3" width="4" height="14.1" fill="#e05846"/><rect x="932.34" y="485.2" width="2" height="8.7" fill="#707073"/><rect x="929.34" y="490.8" width="8" height="2.0" fill="#154c2e"/><rect x="942.00" y="483.4" width="2" height="12.4" fill="#707073"/><rect x="939.00" y="489.3" width="8" height="2.1" fill="#154c2e"/><rect x="951.66" y="481.1" width="2" height="8.4" fill="#707073"/><rect x="948.66" y="486.5" width="8" height="3.1" fill="#154c2e"/><rect x="961.32" y="477.1" width="2" height="10.6" fill="#707073"/><rect x="958.32" y="478.1" width="8" height="8.3" fill="#154c2e"/><rect x="960.32" y="480.1" width="4" height="4.3" fill="#6eaa87"/><rect x="970.99" y="476.1" width="2" height="7.5" fill="#707073"/><rect x="967.99" y="478.4" width="8" height="2.0" fill="#56120c"/><rect x="980.65" y="471.2" width="2" height="11.2" fill="#707073"/><rect x="977.65" y="479.3" width="8" height="2.1" fill="#154c2e"/><rect x="990.31" y="478.4" width="2" height="9.9" fill="#707073"/><rect x="987.31" y="479.3" width="8" height="9.1" fill="#56120c"/><rect x="989.31" y="481.3" width="4" height="5.1" fill="#e05846"/><rect x="999.97" y="482.4" width="2" height="6.0" fill="#707073"/><rect x="996.97" y="482.4" width="8" height="6.0" fill="#154c2e"/><rect x="998.97" y="484.4" width="4" height="2.0" fill="#6eaa87"/><rect x="1009.63" y="480.2" width="2" height="5.3" fill="#707073"/><rect x="1006.63" y="483.4" width="8" height="2.1" fill="#56120c"/><rect x="1019.30" y="482.4" width="2" height="4.0" fill="#707073"/><rect x="1016.30" y="483.7" width="8" height="2.0" fill="#154c2e"/><rect x="1028.96" y="477.2" width="2" height="6.2" fill="#707073"/><rect x="1025.96" y="481.4" width="8" height="2.0" fill="#154c2e"/><rect x="1038.62" y="480.2" width="2" height="16.5" fill="#707073"/><rect x="1035.62" y="481.2" width="8" height="13.0" fill="#56120c"/><rect x="1037.62" y="483.2" width="4" height="9.0" fill="#e05846"/><rect x="1048.28" y="489.9" width="2" height="6.2" fill="#707073"/><rect x="1045.28" y="493.6" width="8" height="2.0" fill="#154c2e"/><rect x="1057.95" y="491.1" width="2" height="8.7" fill="#707073"/><rect x="1054.95" y="494.5" width="8" height="2.9" fill="#56120c"/><rect x="1067.61" y="494.2" width="2" height="8.7" fill="#707073"/><rect x="1064.61" y="497.3" width="8" height="3.1" fill="#56120c"/><rect x="1077.27" y="493.0" width="2" height="9.9" fill="#707073"/><rect x="1074.27" y="494.2" width="8" height="6.0" fill="#154c2e"/><rect x="1076.27" y="496.2" width="4" height="2.0" fill="#6eaa87"/><rect x="1086.93" y="494.5" width="2" height="13.4" fill="#707073"/><rect x="1083.93" y="494.5" width="8" height="10.9" fill="#56120c"/><rect x="1085.93" y="496.5" width="4" height="6.9" fill="#e05846"/><rect x="1096.60" y="496.1" width="2" height="12.4" fill="#707073"/><rect x="1093.60" y="505.4" width="8" height="2.1" fill="#56120c"/><rect x="1106.26" y="506.0" width="2" height="19.9" fill="#707073"/><rect x="1103.26" y="508.3" width="8" height="16.1" fill="#56120c"/><rect x="1105.26" y="510.3" width="4" height="12.1" fill="#e05846"/><rect x="1115.92" y="517.2" width="2" height="6.2" fill="#707073"/><rect x="1112.92" y="519.4" width="8" height="4.0" fill="#154c2e"/><rect x="1125.58" y="512.2" width="2" height="7.2" fill="#707073"/><rect x="1122.58" y="516.3" width="8" height="3.1" fill="#154c2e"/><rect x="1135.24" y="513.1" width="2" height="7.2" fill="#707073"/><rect x="1132.24" y="516.3" width="8" height="4.0" fill="#56120c"/><rect x="1144.91" y="519.1" width="2" height="4.3" fill="#707073"/><rect x="1141.91" y="520.3" width="8" height="2.1" fill="#56120c"/><rect x="1154.57" y="520.9" width="2" height="17.8" fill="#707073"/><rect x="1151.57" y="522.2" width="8" height="15.5" fill="#56120c"/><rect x="1153.57" y="524.2" width="4" height="11.5" fill="#e05846"/><rect x="1164.23" y="535.0" width="2" height="12.9" fill="#707073"/><rect x="1161.23" y="537.5" width="8" height="4.8" fill="#56120c"/><rect x="1163.23" y="539.5" width="4" height="0.8" fill="#e05846"/><rect x="1173.89" y="541.1" width="2" height="28.9" fill="#707073"/><rect x="1170.89" y="542.3" width="8" height="16.9" fill="#56120c"/><rect x="1172.89" y="544.3" width="4" height="12.9" fill="#e05846"/><rect x="1183.56" y="547.3" width="2" height="16.5" fill="#707073"/><rect x="1180.56" y="548.3" width="8" height="10.9" fill="#154c2e"/><rect x="1182.56" y="550.3" width="4" height="6.9" fill="#6eaa87"/><rect x="1193.22" y="538.9" width="2" height="14.9" fill="#707073"/><rect x="1190.22" y="548.3" width="8" height="2.2" fill="#56120c"/><rect x="1202.88" y="541.1" width="2" height="10.3" fill="#707073"/><rect x="1199.88" y="549.5" width="8" height="2.0" fill="#154c2e"/><rect x="1212.54" y="537.5" width="2" height="17.0" fill="#707073"/><rect x="1209.54" y="537.5" width="8" height="11.7" fill="#154c2e"/><rect x="1211.54" y="539.5" width="4" height="7.7" fill="#6eaa87"/><rect x="1222.21" y="533.1" width="2" height="26.3" fill="#707073"/><rect x="1219.21" y="537.5" width="8" height="18.0" fill="#56120c"/><rect x="1221.21" y="539.5" width="4" height="14.0" fill="#e05846"/><rect x="1231.87" y="543.3" width="2" height="13.0" fill="#707073"/><rect x="1228.87" y="548.5" width="8" height="7.0" fill="#154c2e"/><rect x="1230.87" y="550.5" width="4" height="3.0" fill="#6eaa87"/><rect x="1241.53" y="537.1" width="2" height="11.4" fill="#707073"/><rect x="1238.53" y="547.0" width="8" height="2.0" fill="#56120c"/><rect x="1251.19" y="536.1" width="2" height="11.2" fill="#707073"/><rect x="1248.19" y="543.5" width="8" height="3.7" fill="#154c2e"/><rect x="1260.85" y="541.4" width="2" height="19.3" fill="#707073"/><rect x="1257.85" y="543.3" width="8" height="16.1" fill="#56120c"/><rect x="1259.85" y="545.3" width="4" height="12.1" fill="#e05846"/><rect x="1270.52" y="530.6" width="2" height="29.8" fill="#707073"/><rect x="1267.52" y="531.2" width="8" height="29.2" fill="#154c2e"/><rect x="1269.52" y="533.2" width="4" height="25.2" fill="#6eaa87"/><rect x="1280.18" y="525.0" width="2" height="17.0" fill="#707073"/><rect x="1277.18" y="531.2" width="8" height="10.8" fill="#56120c"/><rect x="1279.18" y="533.2" width="4" height="6.8" fill="#e05846"/><rect x="1289.84" y="532.1" width="2" height="13.7" fill="#707073"/><rect x="1286.84" y="538.3" width="8" height="3.7" fill="#154c2e"/><rect x="1299.50" y="528.4" width="2" height="11.2" fill="#707073"/><rect x="1296.50" y="530.5" width="8" height="8.1" fill="#154c2e"/><rect x="1298.50" y="532.5" width="4" height="4.1" fill="#6eaa87"/><rect x="1309.17" y="524.3" width="2" height="10.3" fill="#707073"/><rect x="1306.17" y="530.3" width="8" height="3.4" fill="#56120c"/><rect x="1318.83" y="528.2" width="2" height="9.6" fill="#707073"/><rect x="1315.83" y="531.5" width="8" height="2.0" fill="#154c2e"/><rect x="1328.49" y="530.7" width="2" height="6.5" fill="#707073"/><rect x="1325.49" y="531.5" width="8" height="5.6" fill="#56120c"/><rect x="1327.49" y="533.5" width="4" height="1.6" fill="#e05846"/><rect x="1338.15" y="536.5" width="2" height="15.3" fill="#707073"/><rect x="1335.15" y="537.5" width="8" height="12.0" fill="#56120c"/><rect x="1337.15" y="539.5" width="4" height="8.0" fill="#e05846"/><rect x="1347.82" y="540.2" width="2" height="11.6" fill="#707073"/><rect x="1344.82" y="542.5" width="8" height="7.1" fill="#154c2e"/><rect x="1346.82" y="544.5" width="4" height="3.1" fill="#6eaa87"/><rect x="1357.48" y="535.2" width="2" height="8.7" fill="#707073"/><rect x="1354.48" y="540.2" width="8" height="2.5" fill="#154c2e"/><rect x="1367.14" y="533.4" width="2" height="11.4" fill="#707073"/><rect x="1364.14" y="533.4" width="8" height="6.0" fill="#154c2e"/><rect x="1366.14" y="535.4" width="4" height="2.0" fill="#6eaa87"/><rect x="1376.80" y="527.2" width="2" height="7.5" fill="#707073"/><rect x="1373.80" y="529.4" width="8" height="3.0" fill="#154c2e"/><rect x="1386.46" y="528.4" width="2" height="10.2" fill="#707073"/><rect x="1383.46" y="529.4" width="8" height="6.1" fill="#56120c"/><rect x="1385.46" y="531.4" width="4" height="2.1" fill="#e05846"/><rect x="1396.13" y="495.1" width="2" height="41.1" fill="#707073"/><rect x="1393.13" y="497.4" width="8" height="38.9" fill="#154c2e"/><rect x="1395.13" y="499.4" width="4" height="34.9" fill="#6eaa87"/><rect x="1405.79" y="496.7" width="2" height="6.8" fill="#707073"/><rect x="1402.79" y="496.7" width="8" height="2.0" fill="#56120c"/><rect x="1415.45" y="485.2" width="2" height="13.4" fill="#707073"/><rect x="1412.45" y="490.3" width="8" height="7.1" fill="#154c2e"/><rect x="1414.45" y="492.3" width="4" height="3.1" fill="#6eaa87"/><rect x="1425.11" y="489.7" width="2" height="9.8" fill="#707073"/><rect x="1422.11" y="489.7" width="8" height="8.6" fill="#56120c"/><rect x="1424.11" y="491.7" width="4" height="4.6" fill="#e05846"/><rect x="1434.78" y="497.6" width="2" height="9.9" fill="#707073"/><rect x="1431.78" y="497.6" width="8" height="8.8" fill="#56120c"/><rect x="1433.78" y="499.6" width="4" height="4.8" fill="#e05846"/><rect x="1444.44" y="502.3" width="2" height="51.2" fill="#707073"/><rect x="1441.44" y="506.4" width="8" height="44.0" fill="#56120c"/><rect x="1443.44" y="508.4" width="4" height="40.0" fill="#e05846"/><rect x="1454.10" y="545.4" width="2" height="15.3" fill="#707073"/><rect x="1451.10" y="549.3" width="8" height="2.0" fill="#154c2e"/><rect x="1463.76" y="541.5" width="2" height="11.2" fill="#707073"/><rect x="1460.76" y="546.4" width="8" height="3.1" fill="#154c2e"/><rect x="1473.42" y="544.6" width="2" height="8.9" fill="#707073"/><rect x="1470.42" y="546.4" width="8" height="3.7" fill="#56120c"/><rect x="1483.09" y="545.4" width="2" height="14.3" fill="#707073"/><rect x="1480.09" y="550.2" width="8" height="4.3" fill="#56120c"/><rect x="1482.09" y="552.2" width="4" height="0.3" fill="#e05846"/><rect x="1492.75" y="552.6" width="2" height="11.8" fill="#707073"/><rect x="1489.75" y="555.5" width="8" height="7.7" fill="#56120c"/><rect x="1491.75" y="557.5" width="4" height="3.7" fill="#e05846"/><rect x="1502.41" y="552.6" width="2" height="19.9" fill="#707073"/><rect x="1499.41" y="561.3" width="8" height="2.0" fill="#154c2e"/><rect x="1512.07" y="555.5" width="2" height="8.0" fill="#707073"/><rect x="1509.07" y="558.2" width="8" height="3.1" fill="#154c2e"/><rect x="1521.74" y="555.5" width="2" height="7.1" fill="#707073"/><rect x="1518.74" y="558.2" width="8" height="2.0" fill="#56120c"/><rect x="1531.40" y="557.6" width="2" height="8.7" fill="#707073"/><rect x="1528.40" y="559.5" width="8" height="6.8" fill="#56120c"/><rect x="1530.40" y="561.5" width="4" height="2.8" fill="#e05846"/><rect x="1541.06" y="564.4" width="2" height="7.1" fill="#707073"/><rect x="1538.06" y="565.3" width="8" height="2.0" fill="#154c2e"/><rect x="1550.72" y="559.5" width="2" height="6.2" fill="#707073"/><rect x="1547.72" y="561.3" width="8" height="4.3" fill="#154c2e"/><rect x="1549.72" y="563.3" width="4" height="0.3" fill="#6eaa87"/><rect x="1560.39" y="557.2" width="2" height="6.2" fill="#707073"/><rect x="1557.39" y="558.0" width="8" height="3.4" fill="#154c2e"/><rect x="1570.05" y="556.4" width="2" height="4.3" fill="#707073"/><rect x="1567.05" y="558.2" width="8" height="2.5" fill="#56120c"/><rect x="1579.71" y="560.5" width="2" height="23.9" fill="#707073"/><rect x="1576.71" y="560.5" width="8" height="11.7" fill="#56120c"/><rect x="1578.71" y="562.5" width="4" height="7.7" fill="#e05846"/><rect x="1589.37" y="570.7" width="2" height="14.4" fill="#707073"/><rect x="1586.37" y="573.4" width="8" height="9.9" fill="#56120c"/><rect x="1588.37" y="575.4" width="4" height="5.9" fill="#e05846"/><rect x="1599.03" y="574.4" width="2" height="10.7" fill="#707073"/><rect x="1596.03" y="580.3" width="8" height="3.0" fill="#154c2e"/><rect x="1608.70" y="575.4" width="2" height="11.4" fill="#707073"/><rect x="1605.70" y="579.3" width="8" height="2.0" fill="#154c2e"/><rect x="1618.36" y="578.1" width="2" height="18.5" fill="#707073"/><rect x="1615.36" y="579.4" width="8" height="15.0" fill="#56120c"/><rect x="1617.36" y="581.4" width="4" height="11.0" fill="#e05846"/><rect x="1628.02" y="585.3" width="2" height="18.5" fill="#707073"/><rect x="1625.02" y="588.4" width="8" height="6.0" fill="#154c2e"/><rect x="1627.02" y="590.4" width="4" height="2.0" fill="#6eaa87"/><rect x="1637.68" y="587.3" width="2" height="12.5" fill="#707073"/><rect x="1634.68" y="587.3" width="8" height="10.3" fill="#56120c"/><rect x="1636.68" y="589.3" width="4" height="6.3" fill="#e05846"/><rect x="1647.35" y="586.2" width="2" height="21.5" fill="#707073"/><rect x="1644.35" y="596.3" width="8" height="6.2" fill="#56120c"/><rect x="1646.35" y="598.3" width="4" height="2.2" fill="#e05846"/><rect x="1657.01" y="594.0" width="2" height="14.7" fill="#707073"/><rect x="1654.01" y="602.3" width="8" height="4.3" fill="#56120c"/><rect x="1656.01" y="604.3" width="4" height="0.3" fill="#e05846"/><rect x="1666.67" y="600.2" width="2" height="27.7" fill="#707073"/><rect x="1663.67" y="607.4" width="8" height="6.2" fill="#56120c"/><rect x="1665.67" y="609.4" width="4" height="2.2" fill="#e05846"/><rect x="1676.33" y="606.1" width="2" height="27.6" fill="#707073"/><rect x="1673.33" y="613.2" width="8" height="16.3" fill="#56120c"/><rect x="1675.33" y="615.2" width="4" height="12.3" fill="#e05846"/><rect x="1686.00" y="625.3" width="2" height="46.3" fill="#707073"/><rect x="1683.00" y="629.4" width="8" height="26.9" fill="#56120c"/><rect x="1685.00" y="631.4" width="4" height="22.9" fill="#e05846"/><rect x="1695.66" y="634.0" width="2" height="47.2" fill="#707073"/><rect x="1692.66" y="654.4" width="8" height="26.8" fill="#56120c"/><rect x="1694.66" y="656.4" width="4" height="22.8" fill="#e05846"/><rect x="1705.32" y="659.2" width="2" height="32.2" fill="#707073"/><rect x="1702.32" y="672.3" width="8" height="8.4" fill="#154c2e"/><rect x="1704.32" y="674.3" width="4" height="4.4" fill="#6eaa87"/><rect x="1714.98" y="616.3" width="2" height="58.4" fill="#707073"/><rect x="1711.98" y="638.4" width="8" height="34.4" fill="#154c2e"/><rect x="1713.98" y="640.4" width="4" height="30.4" fill="#6eaa87"/><rect x="1724.64" y="621.0" width="2" height="17.4" fill="#707073"/><rect x="1721.64" y="624.6" width="8" height="13.8" fill="#154c2e"/><rect x="1723.64" y="626.6" width="4" height="9.8" fill="#6eaa87"/><rect x="1734.31" y="605.5" width="2" height="38.2" fill="#707073"/><rect x="1731.31" y="624.6" width="8" height="4.3" fill="#56120c"/><rect x="1733.31" y="626.6" width="4" height="0.3" fill="#e05846"/><rect x="1743.97" y="619.0" width="2" height="23.5" fill="#707073"/><rect x="1740.97" y="629.4" width="8" height="13.1" fill="#56120c"/><rect x="1742.97" y="631.4" width="4" height="9.1" fill="#e05846"/><rect x="1753.63" y="640.0" width="2" height="31.0" fill="#707073"/><rect x="1750.63" y="642.5" width="8" height="10.0" fill="#56120c"/><rect x="1752.63" y="644.5" width="4" height="6.0" fill="#e05846"/><rect x="1763.29" y="638.4" width="2" height="23.2" fill="#707073"/><rect x="1760.29" y="652.5" width="8" height="8.4" fill="#56120c"/><rect x="1762.29" y="654.5" width="4" height="4.4" fill="#e05846"/><rect x="1772.96" y="656.3" width="2" height="113.2" fill="#707073"/><rect x="1769.96" y="660.4" width="8" height="65.6" fill="#56120c"/><rect x="1771.96" y="662.4" width="4" height="61.6" fill="#e05846"/><rect x="1782.62" y="679.5" width="2" height="53.2" fill="#707073"/><rect x="1779.62" y="716.5" width="8" height="10.7" fill="#154c2e"/><rect x="1781.62" y="718.5" width="4" height="6.7" fill="#6eaa87"/><rect x="1792.28" y="694.3" width="2" height="159.4" fill="#707073"/><rect x="1789.28" y="716.5" width="8" height="33.9" fill="#56120c"/><rect x="1791.28" y="718.5" width="4" height="29.9" fill="#e05846"/><rect x="1801.94" y="744.7" width="2" height="55.8" fill="#707073"/><rect x="1798.94" y="750.4" width="8" height="44.1" fill="#56120c"/><rect x="1800.94" y="752.4" width="4" height="40.1" fill="#e05846"/><rect x="1811.61" y="777.4" width="2" height="56.0" fill="#707073"/><rect x="1808.61" y="788.0" width="8" height="4.4" fill="#154c2e"/><rect x="1810.61" y="790.0" width="4" height="0.4" fill="#6eaa87"/><rect x="1821.27" y="754.7" width="2" height="64.9" fill="#707073"/><rect x="1818.27" y="787.6" width="8" height="32.0" fill="#56120c"/><rect x="1820.27" y="789.6" width="4" height="28.0" fill="#e05846"/><rect x="1830.93" y="806.0" width="2" height="105.0" fill="#707073"/><rect x="1827.93" y="819.6" width="8" height="9.8" fill="#56120c"/><rect x="1829.93" y="821.6" width="4" height="5.8" fill="#e05846"/><rect x="1840.59" y="807.7" width="2" height="34.8" fill="#707073"/><rect x="1837.59" y="826.3" width="8" height="2.4" fill="#154c2e"/><rect x="1850.25" y="754.2" width="2" height="79.2" fill="#707073"/><rect x="1847.25" y="794.0" width="8" height="31.8" fill="#154c2e"/><rect x="1849.25" y="796.0" width="4" height="27.8" fill="#6eaa87"/><rect x="1859.92" y="764.3" width="2" height="43.0" fill="#707073"/><rect x="1856.92" y="794.4" width="8" height="3.0" fill="#56120c"/><rect x="1869.58" y="790.1" width="2" height="33.4" fill="#707073"/><rect x="1866.58" y="797.4" width="8" height="2.0" fill="#56120c"/><rect x="1879.24" y="750.2" width="2" height="57.1" fill="#707073"/><rect x="1876.24" y="760.3" width="8" height="38.1" fill="#154c2e"/><rect x="1878.24" y="762.3" width="4" height="34.1" fill="#6eaa87"/><rect x="1888.90" y="734.0" width="2" height="31.9" fill="#707073"/><rect x="1885.90" y="759.8" width="8" height="2.0" fill="#154c2e"/><rect x="1898.57" y="730.2" width="2" height="29.1" fill="#707073"/><rect x="1895.57" y="730.2" width="8" height="29.1" fill="#154c2e"/><rect x="1897.57" y="732.2" width="4" height="25.1" fill="#6eaa87"/><rect x="1908.23" y="713.0" width="2" height="33.6" fill="#707073"/><rect x="1905.23" y="730.2" width="8" height="8.1" fill="#56120c"/><rect x="1907.23" y="732.2" width="4" height="4.1" fill="#e05846"/><rect x="1917.89" y="732.0" width="2" height="34.7" fill="#707073"/><rect x="1914.89" y="738.3" width="8" height="23.3" fill="#56120c"/><rect x="1916.89" y="740.3" width="4" height="19.3" fill="#e05846"/><rect x="1927.55" y="747.1" width="2" height="33.4" fill="#707073"/><rect x="1924.55" y="761.3" width="8" height="14.2" fill="#56120c"/><rect x="1926.55" y="763.3" width="4" height="10.2" fill="#e05846"/><rect x="1937.22" y="759.8" width="2" height="16.7" fill="#707073"/><rect x="1934.22" y="770.4" width="8" height="4.1" fill="#154c2e"/><rect x="1936.22" y="772.4" width="4" height="0.1" fill="#6eaa87"/><rect x="1946.88" y="767.9" width="2" height="17.7" fill="#707073"/><rect x="1943.88" y="770.4" width="8" height="9.9" fill="#56120c"/><rect x="1945.88" y="772.4" width="4" height="5.9" fill="#e05846"/><rect x="1956.54" y="763.0" width="2" height="35.7" fill="#707073"/><rect x="1953.54" y="780.3" width="8" height="14.2" fill="#56120c"/><rect x="1955.54" y="782.3" width="4" height="10.2" fill="#e05846"/><rect x="1966.20" y="789.1" width="2" height="20.3" fill="#707073"/><rect x="1963.20" y="794.5" width="8" height="10.8" fill="#56120c"/><rect x="1965.20" y="796.5" width="4" height="6.8" fill="#e05846"/><rect x="1975.86" y="770.9" width="2" height="36.4" fill="#707073"/><rect x="1972.86" y="786.4" width="8" height="18.9" fill="#154c2e"/><rect x="1974.86" y="788.4" width="4" height="14.9" fill="#6eaa87"/><rect x="1985.53" y="751.2" width="2" height="35.4" fill="#707073"/><rect x="1982.53" y="755.5" width="8" height="31.1" fill="#154c2e"/><rect x="1984.53" y="757.5" width="4" height="27.1" fill="#6eaa87"/><rect x="1995.19" y="750.2" width="2" height="27.3" fill="#707073"/><rect x="1992.19" y="755.5" width="8" height="16.9" fill="#56120c"/><rect x="1994.19" y="757.5" width="4" height="12.9" fill="#e05846"/><rect x="2004.85" y="752.2" width="2" height="24.3" fill="#707073"/><rect x="2001.85" y="761.3" width="8" height="11.1" fill="#154c2e"/><rect x="2003.85" y="763.3" width="4" height="7.1" fill="#6eaa87"/><rect x="2014.51" y="741.0" width="2" height="25.4" fill="#707073"/><rect x="2011.51" y="745.3" width="8" height="17.0" fill="#154c2e"/><rect x="2013.51" y="747.3" width="4" height="13.0" fill="#6eaa87"/><rect x="2024.18" y="740.0" width="2" height="16.5" fill="#707073"/><rect x="2021.18" y="745.3" width="8" height="4.2" fill="#56120c"/><rect x="2023.18" y="747.3" width="4" height="0.2" fill="#e05846"/><rect x="2033.84" y="738.3" width="2" height="12.2" fill="#707073"/><rect x="2030.84" y="742.3" width="8" height="7.4" fill="#154c2e"/><rect x="2032.84" y="744.3" width="4" height="3.4" fill="#6eaa87"/><rect x="2043.50" y="722.3" width="2" height="21.3" fill="#707073"/><rect x="2040.50" y="727.2" width="8" height="15.2" fill="#154c2e"/><rect x="2042.50" y="729.2" width="4" height="11.2" fill="#6eaa87"/><rect x="2053.16" y="727.2" width="2" height="26.3" fill="#707073"/><rect x="2050.16" y="727.2" width="8" height="25.5" fill="#56120c"/><rect x="2052.16" y="729.2" width="4" height="21.5" fill="#e05846"/><rect x="2062.83" y="748.1" width="2" height="23.6" fill="#707073"/><rect x="2059.83" y="752.5" width="8" height="9.8" fill="#56120c"/><rect x="2061.83" y="754.5" width="4" height="5.8" fill="#e05846"/><rect x="2072.49" y="753.2" width="2" height="29.3" fill="#707073"/><rect x="2069.49" y="761.3" width="8" height="7.1" fill="#56120c"/><rect x="2071.49" y="763.3" width="4" height="3.1" fill="#e05846"/><rect x="2082.15" y="755.2" width="2" height="20.6" fill="#707073"/><rect x="2079.15" y="768.1" width="8" height="2.0" fill="#56120c"/><rect x="2091.81" y="760.3" width="2" height="16.2" fill="#707073"/><rect x="2088.81" y="766.4" width="8" height="3.3" fill="#154c2e"/><rect x="2101.47" y="754.1" width="2" height="17.3" fill="#707073"/><rect x="2098.47" y="766.3" width="8" height="5.1" fill="#56120c"/><rect x="2100.47" y="768.3" width="4" height="1.1" fill="#e05846"/><rect x="2111.14" y="748.1" width="2" height="22.2" fill="#707073"/><rect x="2108.14" y="752.3" width="8" height="18.0" fill="#154c2e"/><rect x="2110.14" y="754.3" width="4" height="14.0" fill="#6eaa87"/><rect x="2120.80" y="745.0" width="2" height="15.7" fill="#707073"/><rect x="2117.80" y="752.3" width="8" height="4.1" fill="#56120c"/><rect x="2119.80" y="754.3" width="4" height="0.1" fill="#e05846"/><rect x="2130.46" y="746.0" width="2" height="10.4" fill="#707073"/><rect x="2127.46" y="752.3" width="8" height="4.1" fill="#154c2e"/><rect x="2129.46" y="754.3" width="4" height="0.1" fill="#6eaa87"/><rect x="2140.12" y="734.9" width="2" height="26.3" fill="#707073"/><rect x="2137.12" y="753.1" width="8" height="7.4" fill="#56120c"/><rect x="2139.12" y="755.1" width="4" height="3.4" fill="#e05846"/><rect x="2149.79" y="754.1" width="2" height="19.3" fill="#707073"/><rect x="2146.79" y="760.2" width="8" height="2.0" fill="#56120c"/><rect x="2159.45" y="747.1" width="2" height="15.3" fill="#707073"/><rect x="2156.45" y="750.3" width="8" height="12.1" fill="#154c2e"/><rect x="2158.45" y="752.3" width="4" height="8.1" fill="#6eaa87"/><rect x="2169.11" y="742.0" width="2" height="20.4" fill="#707073"/><rect x="2166.11" y="750.3" width="8" height="12.1" fill="#56120c"/><rect x="2168.11" y="752.3" width="4" height="8.1" fill="#e05846"/><rect x="2178.77" y="754.1" width="2" height="9.5" fill="#707073"/><rect x="2175.77" y="759.2" width="8" height="3.2" fill="#154c2e"/><rect x="2188.44" y="758.2" width="2" height="8.6" fill="#707073"/><rect x="2185.44" y="759.4" width="8" height="5.1" fill="#56120c"/><rect x="2187.44" y="761.4" width="4" height="1.1" fill="#e05846"/><rect x="2198.10" y="762.2" width="2" height="35.5" fill="#707073"/><rect x="2195.10" y="764.3" width="8" height="31.1" fill="#56120c"/><rect x="2197.10" y="766.3" width="4" height="27.1" fill="#e05846"/><rect x="2207.76" y="785.0" width="2" height="15.7" fill="#707073"/><rect x="2204.76" y="788.4" width="8" height="7.0" fill="#154c2e"/><rect x="2206.76" y="790.4" width="4" height="3.0" fill="#6eaa87"/><rect x="2217.42" y="788.0" width="2" height="21.3" fill="#707073"/><rect x="2214.42" y="789.4" width="8" height="17.9" fill="#56120c"/><rect x="2216.42" y="791.4" width="4" height="13.9" fill="#e05846"/><rect x="2227.08" y="800.2" width="2" height="19.7" fill="#707073"/><rect x="2224.08" y="804.3" width="8" height="3.2" fill="#154c2e"/><rect x="2236.75" y="800.2" width="2" height="10.6" fill="#707073"/><rect x="2233.75" y="804.3" width="8" height="6.5" fill="#56120c"/><rect x="2235.75" y="806.3" width="4" height="2.5" fill="#e05846"/><line x1="20" y1="810.7" x2="2374" y2="810.7" stroke="#d9534a" stroke-width="2" stroke-dasharray="2 4"/></g><text x="36.40" y="300" font-size="24.7" fill="#505050" textLength="671.29" lengthAdjust="spacing" stroke="#505050" stroke-width="0.3">AVAX / US Dollar (calculated by TradingView), 4h, BINANCE</text><text x="722.49" y="300" font-size="24.7" fill="#505050" textLength="17.89" lengthAdjust="spacing" stroke="#505050" stroke-width="0.3">O</text><text x="741.37" y="300" font-size="24.7" fill="#6b1d16" textLength="133.74" lengthAdjust="spacing" stroke="#6b1d16" stroke-width="0.3">29.7710604</text><text x="888.72" y="300" font-size="24.7" fill="#505050" textLength="19.01" lengthAdjust="spacing" stroke="#505050" stroke-width="0.3">H</text><text x="907.54" y="300" font-size="24.7" fill="#6b1d16" textLength="136.44" lengthAdjust="spacing" stroke="#6b1d16" stroke-width="0.3">30.0432166</text><text x="1057.52" y="300" font-size="24.7" fill="#505050" textLength="15.25" lengthAdjust="spacing" stroke="#505050" stroke-width="0.3">L</text><text x="1071.07" y="300" font-size="24.7" fill="#6b1d16" textLength="130.01" lengthAdjust="spacing" stroke="#6b1d16" stroke-width="0.3">29.1551773</text><text x="1214.07" y="300" font-size="24.7" fill="#505050" textLength="17.35" lengthAdjust="spacing" stroke="#505050" stroke-width="0.3">C</text><text x="1232.37" y="300" font-size="24.7" fill="#6b1d16" textLength="132.08" lengthAdjust="spacing" stroke="#6b1d16" stroke-width="0.3">29.1815380</text><text x="1378.37" y="300" font-size="24.7" fill="#6b1d16" textLength="248.43" lengthAdjust="spacing" stroke="#6b1d16" stroke-width="0.3">−0.5778566 (−1.94%)</text><text x="36.88" y="333.5" font-size="24.7" fill="#505050" textLength="34.73" lengthAdjust="spacing" stroke="#505050" stroke-width="0.3">Vol</text><text x="83.45" y="333.5" font-size="24.7" fill="#ef5350" textLength="72.99" lengthAdjust="spacing" stroke="#ef5350" stroke-width="0.3">16.17K</text><text x="35.02" y="367.5" font-size="24.7" fill="#505050" textLength="223.39" lengthAdjust="spacing" stroke="#505050" stroke-width="0.3">EMA (200, close, 0)</text><text x="272.41" y="367.5" font-size="24.7" fill="#2196f3" textLength="137.06" lengthAdjust="spacing" stroke="#2196f3" stroke-width="0.3">53.6284513</text><text x="35.02" y="401.5" font-size="24.7" fill="#505050" textLength="208.09" lengthAdjust="spacing" stroke="#505050" stroke-width="0.3">EMA (50, close, 0)</text><text x="258.04" y="401.5" font-size="24.7" fill="#f23645" textLength="140.98" lengthAdjust="spacing" stroke="#f23645" stroke-width="0.3">35.4969562</text><rect x="20" y="258" width="2668" height="2" fill="#2a2e39"/><rect x="2500" y="54" width="2" height="1329" fill="#48484b"/><rect x="20" y="1328" width="2668" height="2" fill="#48484b"/><text x="2519.60" y="81.8" font-size="22.6" fill="#505050" textLength="61.45" lengthAdjust="spacing" stroke="none">80.00</text><text x="2519.37" y="137.8" font-size="22.6" fill="#505050" textLength="61.68" lengthAdjust="spacing" stroke="none">60.00</text><text x="2520.05" y="193.8" font-size="22.6" fill="#505050" textLength="61.00" lengthAdjust="spacing" stroke="none">40.00</text><text x="2519.37" y="249.8" font-size="22.6" fill="#505050" textLength="61.68" lengthAdjust="spacing" stroke="none">20.00</text><text x="2518.80" y="286.8" font-size="22.6" fill="#505050" textLength="145.78" lengthAdjust="spacing" stroke="none">120.0000000</text><text x="2518.80" y="355.8" font-size="22.6" fill="#505050" textLength="145.78" lengthAdjust="spacing" stroke="none">100.0000000</text><text x="2519.60" y="416.8" font-size="22.6" fill="#505050" textLength="131.57" lengthAdjust="spacing" stroke="none">85.0000000</text><text x="2519.37" y="489.8" font-size="22.6" fill="#505050" textLength="131.80" lengthAdjust="spacing" stroke="none">70.0000000</text><text x="2519.60" y="560.8" font-size="22.6" fill="#505050" textLength="131.57" lengthAdjust="spacing" stroke="none">58.0000000</text><text x="2520.05" y="647.8" font-size="22.6" fill="#505050" textLength="131.12" lengthAdjust="spacing" stroke="none">46.0000000</text><text x="2519.71" y="714.8" font-size="22.6" fill="#505050" textLength="131.46" lengthAdjust="spacing" stroke="none">38.5000000</text><text x="2519.71" y="778.8" font-size="22.6" fill="#505050" textLength="131.46" lengthAdjust="spacing" stroke="none">32.5000000</text><text x="2519.37" y="854.8" font-size="22.6" fill="#505050" textLength="131.80" lengthAdjust="spacing" stroke="none">26.5000000</text><text x="2519.37" y="916.8" font-size="22.6" fill="#505050" textLength="131.80" lengthAdjust="spacing" stroke="none">22.5000000</text><text x="2518.80" y="990.8" font-size="22.6" fill="#505050" textLength="132.36" lengthAdjust="spacing" stroke="none">18.5000000</text><text x="2518.80" y="1056.8" font-size="22.6" fill="#505050" textLength="132.36" lengthAdjust="spacing" stroke="none">15.5000000</text><text x="2518.80" y="1122.8" font-size="22.6" fill="#505050" textLength="132.36" lengthAdjust="spacing" stroke="none">13.0000000</text><text x="2518.80" y="1185.8" font-size="22.6" fill="#505050" textLength="132.27" lengthAdjust="spacing" stroke="none">11.0000000</text><text x="2519.48" y="1244.8" font-size="22.6" fill="#505050" textLength="118.36" lengthAdjust="spacing" stroke="none">9.4000000</text><text x="2519.60" y="1305.8" font-size="22.6" fill="#505050" textLength="118.24" lengthAdjust="spacing" stroke="none">8.0000000</text><rect x="2563" y="273" width="62" height="34" rx="10" fill="#f2e1d0" stroke="#c9d0de" stroke-width="2"/><text x="2570.00" y="297" font-size="22.6" fill="#505050" textLength="47.24" lengthAdjust="spacing" stroke="#505050" stroke-width="0.3">USD</text><g clip-path="url(#taxclip)"><text x="25.80" y="1364" font-size="22.6" fill="#505050" textLength="11.74" lengthAdjust="spacing" stroke="none">1</text><text x="184.91" y="1364" font-size="22.6" fill="#505050" textLength="27.11" lengthAdjust="spacing" stroke="none">14</text><text x="416.80" y="1364" font-size="22.6" fill="#505050" textLength="27.45" lengthAdjust="spacing" stroke="none">18</text><text x="591.29" y="1364" font-size="22.6" fill="#505050" textLength="27.00" lengthAdjust="spacing" stroke="none">21</text><text x="823.19" y="1364" font-size="22.6" fill="#505050" textLength="26.89" lengthAdjust="spacing" stroke="none">25</text><text x="997.11" y="1364" font-size="22.6" fill="#505050" textLength="26.89" lengthAdjust="spacing" stroke="none">28</text><text x="1161.09" y="1364" font-size="22.6" fill="#505050" font-weight="bold" textLength="45.59" lengthAdjust="spacing" stroke="none">May</text><text x="1352.43" y="1364" font-size="22.6" fill="#505050" textLength="12.24" lengthAdjust="spacing" stroke="none">4</text><text x="1641.73" y="1364" font-size="22.6" fill="#505050" textLength="13.26" lengthAdjust="spacing" stroke="none">9</text><text x="1808.18" y="1364" font-size="22.6" fill="#505050" textLength="27.68" lengthAdjust="spacing" stroke="none">12</text><text x="2040.08" y="1364" font-size="22.6" fill="#505050" textLength="27.45" lengthAdjust="spacing" stroke="none">16</text><text x="2214.00" y="1364" font-size="22.6" fill="#505050" textLength="27.56" lengthAdjust="spacing" stroke="none">19</text><text x="2446.46" y="1364" font-size="22.6" fill="#505050" textLength="26.89" lengthAdjust="spacing" stroke="none">23</text></g><path d="M2377,795 H2498 V827 H2377 Q2374,827 2374,824 V798 Q2374,795 2377,795 Z" fill="#d9534a"/><text x="2384.00" y="818.5" font-size="21.8" fill="#fff" textLength="103.00" lengthAdjust="spacing" stroke="#fff" stroke-width="0.3">AVAXUSD</text><path d="M2500,795 H2660 Q2664,795 2664,799 V848.5 Q2664,852.5 2660,852.5 H2500 Z" fill="#d9534a"/><text x="2520.61" y="818.5" font-size="21.8" fill="#fff" textLength="131.53" lengthAdjust="spacing" stroke="#fff" stroke-width="0.3">29.1815380</text><text x="2520.83" y="845" font-size="21.8" fill="#f6d3cd" textLength="95.12" lengthAdjust="spacing" stroke="#f6d3cd" stroke-width="0.3">02:37:52</text><path d="M2500,994.4 H2660 Q2664,994.4 2664,998.4 V1022 Q2664,1026 2660,1026 H2500 Z" fill="#000"/><text x="2520.66" y="1018.5" font-size="21.8" fill="#fff" textLength="131.68" lengthAdjust="spacing" stroke="#fff" stroke-width="0.3">17.2080563</text><g fill="#d1d4dc"><path d="M20.06,1408.25 H35.43 V1427.5 H27.82 V1416 H20.06 Z"/><circle cx="42.1" cy="1412.4" r="4.35"/><path d="M50.33,1408.25 H59.34 L50.65,1427.5 H42.4 Z"/></g><text x="66.44" y="1428.7" font-size="28" fill="#d1d4dc" textLength="148.51" lengthAdjust="spacing" stroke="#d1d4dc" stroke-width="0.3">TradingView</text></svg></body></html>
